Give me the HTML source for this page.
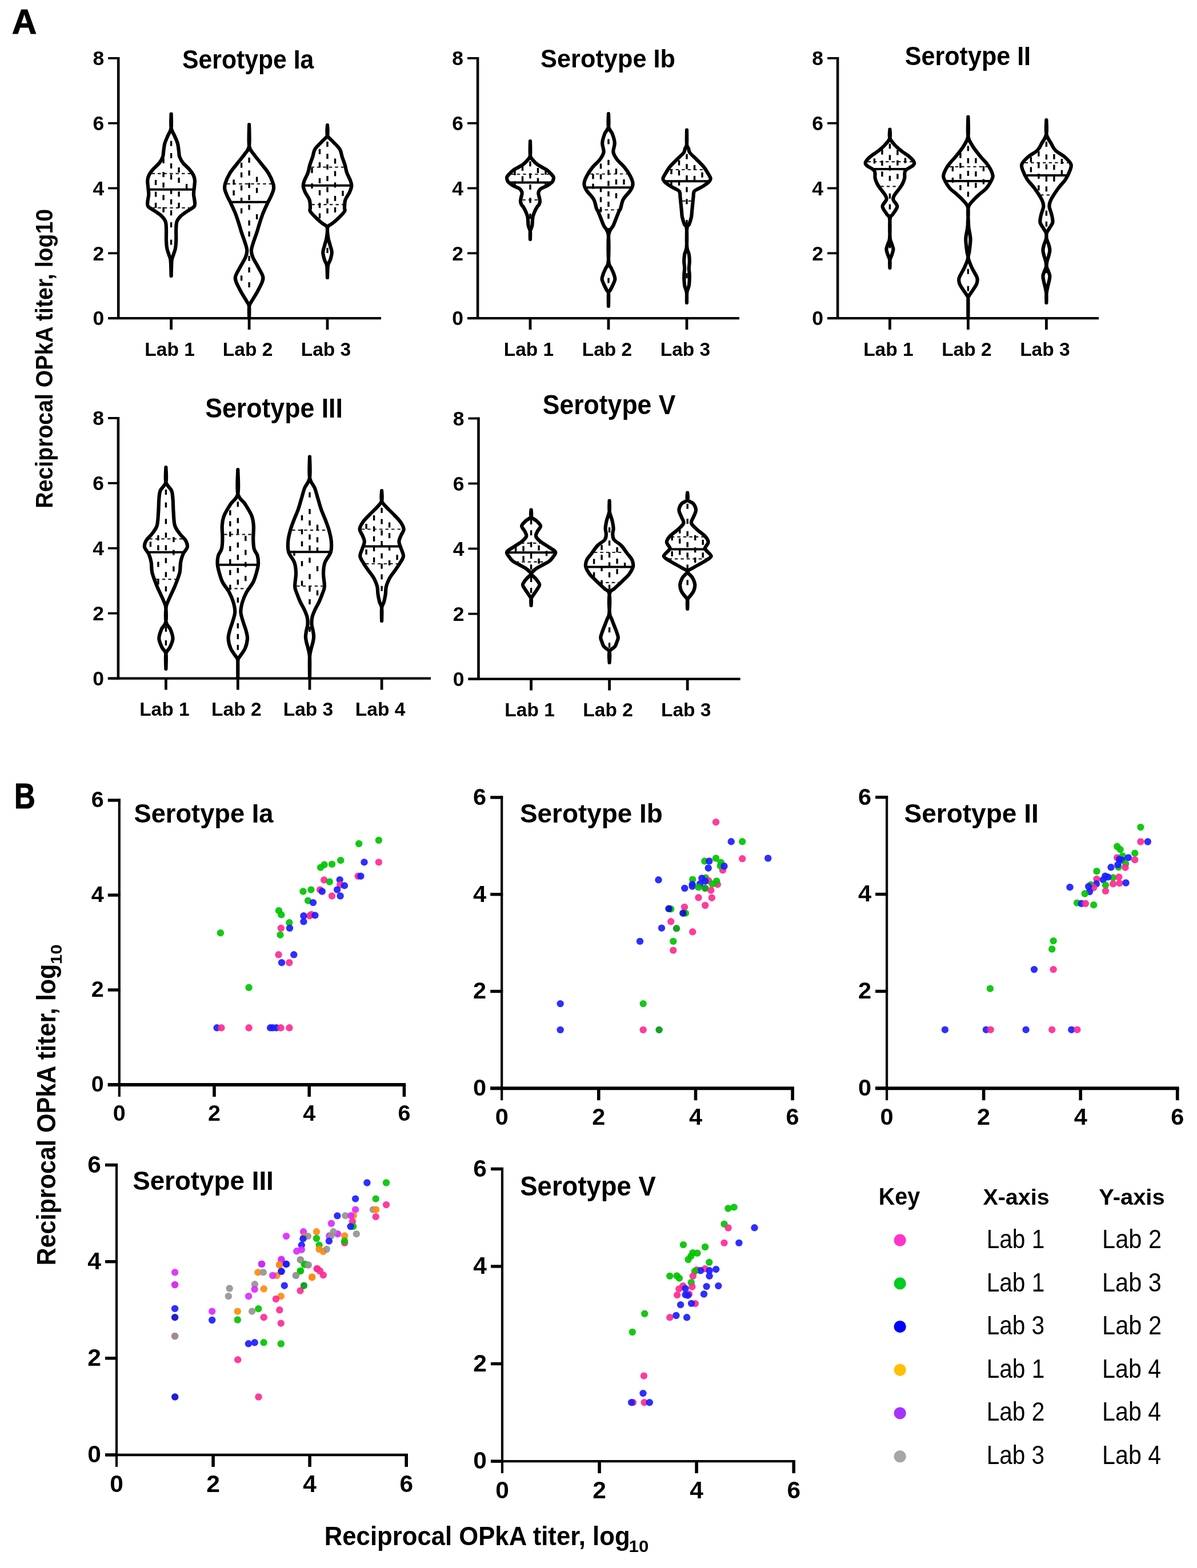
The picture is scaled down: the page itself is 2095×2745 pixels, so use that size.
<!DOCTYPE html><html><head><meta charset="utf-8"><title>Figure</title>
<style>html,body{margin:0;padding:0;background:#fff;width:2095px;height:2745px;overflow:hidden}svg{display:block}text{font-family:"Liberation Sans", Arial, sans-serif;fill:#000}</style></head><body>
<svg width="2095" height="2745" viewBox="0 0 2095 2745">
<rect width="2095" height="2745" fill="#fff"/>
<text transform="translate(21.10 59.10) scale(0.9659 1)" font-size="61.96" font-weight="bold" stroke="#000" stroke-width="1.2">A</text>
<text transform="translate(24.96 1414.50) scale(0.8151 1)" font-size="62.55" font-weight="bold" stroke="#000" stroke-width="1.2">B</text>
<line x1="207.2" y1="99.9" x2="207.2" y2="559.1" stroke="#000" stroke-width="4.6"/>
<line x1="189.2" y1="557.1" x2="207.2" y2="557.1" stroke="#000" stroke-width="3.8"/>
<text x="182.2" y="569.4" font-size="35.5" font-weight="bold" text-anchor="end" >0</text>
<line x1="189.2" y1="443.3" x2="207.2" y2="443.3" stroke="#000" stroke-width="3.8"/>
<text x="182.2" y="455.6" font-size="35.5" font-weight="bold" text-anchor="end" >2</text>
<line x1="189.2" y1="329.5" x2="207.2" y2="329.5" stroke="#000" stroke-width="3.8"/>
<text x="182.2" y="341.8" font-size="35.5" font-weight="bold" text-anchor="end" >4</text>
<line x1="189.2" y1="215.7" x2="207.2" y2="215.7" stroke="#000" stroke-width="3.8"/>
<text x="182.2" y="228.0" font-size="35.5" font-weight="bold" text-anchor="end" >6</text>
<line x1="189.2" y1="101.9" x2="207.2" y2="101.9" stroke="#000" stroke-width="3.8"/>
<text x="182.2" y="114.2" font-size="35.5" font-weight="bold" text-anchor="end" >8</text>
<line x1="189.2" y1="557.1" x2="667.0" y2="557.1" stroke="#000" stroke-width="4.2"/>
<line x1="299.6" y1="557.1" x2="299.6" y2="577.1" stroke="#000" stroke-width="4.8"/>
<text x="297.1" y="622.9" font-size="33.5" font-weight="bold" text-anchor="middle" >Lab 1</text>
<line x1="436.1" y1="557.1" x2="436.1" y2="577.1" stroke="#000" stroke-width="4.8"/>
<text x="433.6" y="622.9" font-size="33.5" font-weight="bold" text-anchor="middle" >Lab 2</text>
<line x1="573.0" y1="557.1" x2="573.0" y2="577.1" stroke="#000" stroke-width="4.8"/>
<text x="570.5" y="622.9" font-size="33.5" font-weight="bold" text-anchor="middle" >Lab 3</text>
<text transform="translate(319.12 119.90) scale(0.9396 1)" font-size="45.45" font-weight="bold">Serotype Ia</text>
<path d="M299.6,199.5 C299.6,203.6 298.6,217.6 299.6,224.0 C300.6,230.4 303.6,233.1 305.5,237.7 C307.4,242.3 309.7,246.8 310.9,251.4 C312.2,256.0 312.4,261.1 313.0,265.0 C313.6,268.9 313.1,271.1 314.3,274.5 C315.6,277.9 317.6,281.9 320.5,285.5 C323.4,289.1 328.5,293.0 331.4,296.4 C334.4,299.8 336.6,302.8 338.2,306.0 C339.8,309.2 340.6,312.1 340.9,315.5 C341.2,318.9 340.5,322.3 340.2,326.4 C339.9,330.5 338.8,335.5 338.9,340.0 C339.0,344.5 340.8,350.0 340.9,353.6 C341.0,357.2 341.9,359.1 339.6,361.8 C337.3,364.5 331.2,367.3 327.3,370.0 C323.4,372.7 319.4,375.2 316.4,378.2 C313.5,381.1 311.0,383.8 309.6,387.7 C308.2,391.6 308.4,395.7 308.2,401.4 C308.0,407.1 308.4,416.1 308.2,421.8 C308.0,427.5 307.6,431.4 306.8,435.5 C306.0,439.6 304.4,443.0 303.4,446.4 C302.4,449.8 301.2,449.9 300.6,456.0 C300.0,462.1 299.8,478.5 299.6,483.0 L299.6,483.0 C299.4,478.5 299.2,462.1 298.6,456.0 C298.0,449.9 296.8,449.8 295.8,446.4 C294.8,443.0 293.2,439.6 292.4,435.5 C291.6,431.4 291.2,427.5 291.0,421.8 C290.8,416.1 291.2,407.1 291.0,401.4 C290.8,395.7 291.0,391.6 289.6,387.7 C288.2,383.8 285.8,381.1 282.8,378.2 C279.9,375.2 275.8,372.7 271.9,370.0 C268.0,367.3 261.9,364.5 259.6,361.8 C257.3,359.1 258.2,357.2 258.3,353.6 C258.4,350.0 260.2,344.5 260.3,340.0 C260.4,335.5 259.3,330.5 259.0,326.4 C258.7,322.3 258.0,318.9 258.3,315.5 C258.6,312.1 259.4,309.2 261.0,306.0 C262.6,302.8 264.9,299.8 267.8,296.4 C270.8,293.0 275.9,289.1 278.7,285.5 C281.6,281.9 283.7,277.9 284.9,274.5 C286.2,271.1 285.6,268.9 286.2,265.0 C286.8,261.1 287.1,256.0 288.3,251.4 C289.6,246.8 291.8,242.3 293.7,237.7 C295.6,233.1 298.6,230.4 299.6,224.0 C300.6,217.6 299.6,203.6 299.6,199.5 Z" fill="none" stroke="#000" stroke-width="6.2" stroke-linejoin="round" stroke-linecap="round"/>
<line x1="261.5" y1="331.8" x2="337.7" y2="331.8" stroke="#000" stroke-width="4.0"/>
<line x1="265.5" y1="303.9" x2="333.7" y2="303.9" stroke="#222" stroke-width="2.2" stroke-dasharray="5.5 5"/>
<line x1="265.8" y1="363.9" x2="333.5" y2="363.9" stroke="#222" stroke-width="2.2" stroke-dasharray="5.5 5"/>
<rect x="297.9" y="246.7" width="3.4" height="9" fill="#000"/>
<rect x="297.9" y="268.0" width="3.4" height="9" fill="#000"/>
<rect x="284.4" y="276.9" width="3.4" height="9" fill="#000"/>
<rect x="297.9" y="285.9" width="3.4" height="9" fill="#000"/>
<rect x="311.4" y="293.1" width="3.4" height="9" fill="#000"/>
<rect x="284.4" y="301.0" width="3.4" height="9" fill="#000"/>
<rect x="297.9" y="305.4" width="3.4" height="9" fill="#000"/>
<rect x="311.4" y="311.0" width="3.4" height="9" fill="#000"/>
<rect x="270.9" y="314.9" width="3.4" height="9" fill="#000"/>
<rect x="284.4" y="319.5" width="3.4" height="9" fill="#000"/>
<rect x="324.9" y="322.0" width="3.4" height="9" fill="#000"/>
<rect x="297.9" y="330.7" width="3.4" height="9" fill="#000"/>
<rect x="311.4" y="335.3" width="3.4" height="9" fill="#000"/>
<rect x="270.9" y="335.6" width="3.4" height="9" fill="#000"/>
<rect x="284.4" y="341.3" width="3.4" height="9" fill="#000"/>
<rect x="297.9" y="348.8" width="3.4" height="9" fill="#000"/>
<rect x="311.4" y="354.9" width="3.4" height="9" fill="#000"/>
<rect x="270.9" y="354.9" width="3.4" height="9" fill="#000"/>
<rect x="284.4" y="362.7" width="3.4" height="9" fill="#000"/>
<rect x="297.9" y="368.2" width="3.4" height="9" fill="#000"/>
<rect x="297.9" y="389.1" width="3.4" height="9" fill="#000"/>
<rect x="297.9" y="419.6" width="3.4" height="9" fill="#000"/>
<path d="M436.1,218.0 C436.1,224.2 434.9,246.8 436.1,255.3 C437.3,263.8 439.9,263.8 443.4,269.0 C446.9,274.2 452.7,280.6 457.1,286.4 C461.6,292.2 466.6,297.8 470.1,303.6 C473.6,309.4 476.5,316.4 477.9,321.0 C479.4,325.6 479.4,327.6 478.8,331.3 C478.2,335.0 476.1,339.4 474.4,343.4 C472.7,347.4 470.7,350.5 468.4,355.4 C466.1,360.3 462.9,366.9 460.6,372.7 C458.3,378.5 456.5,384.2 454.6,390.0 C452.7,395.8 451.3,401.6 449.4,407.3 C447.5,413.1 445.0,419.3 443.4,424.5 C441.8,429.7 440.1,434.0 439.9,438.3 C439.8,442.6 440.5,445.5 442.5,450.4 C444.5,455.3 449.1,462.2 452.0,467.7 C454.9,473.2 458.6,478.9 459.8,483.2 C461.0,487.5 460.5,489.0 458.9,493.6 C457.3,498.2 453.5,505.1 450.3,510.9 C447.1,516.7 442.3,523.9 439.9,528.2 C437.5,532.5 436.7,532.0 436.1,536.8 C435.5,541.6 436.1,553.6 436.1,557.0 L436.1,557.0 C436.1,553.6 436.7,541.6 436.1,536.8 C435.5,532.0 434.7,532.5 432.3,528.2 C429.9,523.9 425.1,516.7 421.9,510.9 C418.7,505.1 414.9,498.2 413.3,493.6 C411.7,489.0 411.2,487.5 412.4,483.2 C413.6,478.9 417.3,473.2 420.2,467.7 C423.1,462.2 427.7,455.3 429.7,450.4 C431.7,445.5 432.5,442.6 432.3,438.3 C432.1,434.0 430.4,429.7 428.8,424.5 C427.2,419.3 424.7,413.1 422.8,407.3 C420.9,401.6 419.5,395.8 417.6,390.0 C415.7,384.2 413.9,378.5 411.6,372.7 C409.3,366.9 406.1,360.3 403.8,355.4 C401.5,350.5 399.5,347.4 397.8,343.4 C396.1,339.4 394.0,335.0 393.4,331.3 C392.8,327.6 392.9,325.6 394.3,321.0 C395.8,316.4 398.6,309.4 402.1,303.6 C405.6,297.8 410.7,292.2 415.1,286.4 C419.6,280.6 425.3,274.2 428.8,269.0 C432.3,263.8 434.9,263.8 436.1,255.3 C437.3,246.8 436.1,224.2 436.1,218.0 Z" fill="none" stroke="#000" stroke-width="6.2" stroke-linejoin="round" stroke-linecap="round"/>
<line x1="405.0" y1="353.7" x2="467.2" y2="353.7" stroke="#000" stroke-width="4.0"/>
<line x1="397.2" y1="321.8" x2="475.0" y2="321.8" stroke="#222" stroke-width="2.2" stroke-dasharray="5.5 5"/>
<rect x="434.4" y="275.9" width="3.4" height="9" fill="#000"/>
<rect x="420.9" y="284.7" width="3.4" height="9" fill="#000"/>
<rect x="434.4" y="298.4" width="3.4" height="9" fill="#000"/>
<rect x="420.9" y="301.7" width="3.4" height="9" fill="#000"/>
<rect x="447.9" y="309.6" width="3.4" height="9" fill="#000"/>
<rect x="407.4" y="314.4" width="3.4" height="9" fill="#000"/>
<rect x="434.4" y="320.2" width="3.4" height="9" fill="#000"/>
<rect x="420.9" y="324.4" width="3.4" height="9" fill="#000"/>
<rect x="447.9" y="328.8" width="3.4" height="9" fill="#000"/>
<rect x="407.4" y="333.2" width="3.4" height="9" fill="#000"/>
<rect x="434.4" y="341.3" width="3.4" height="9" fill="#000"/>
<rect x="420.9" y="346.2" width="3.4" height="9" fill="#000"/>
<rect x="434.4" y="358.4" width="3.4" height="9" fill="#000"/>
<rect x="420.9" y="364.6" width="3.4" height="9" fill="#000"/>
<rect x="447.9" y="375.0" width="3.4" height="9" fill="#000"/>
<rect x="434.4" y="385.8" width="3.4" height="9" fill="#000"/>
<rect x="434.4" y="405.1" width="3.4" height="9" fill="#000"/>
<rect x="434.4" y="447.8" width="3.4" height="9" fill="#000"/>
<rect x="434.4" y="468.0" width="3.4" height="9" fill="#000"/>
<rect x="420.9" y="482.4" width="3.4" height="9" fill="#000"/>
<rect x="434.4" y="494.1" width="3.4" height="9" fill="#000"/>
<path d="M573.0,219.0 C573.0,222.0 571.4,232.0 573.0,236.8 C574.6,241.6 578.9,243.6 582.5,247.7 C586.1,251.8 592.1,256.8 594.8,261.4 C597.5,265.9 597.4,270.5 598.9,275.0 C600.4,279.5 602.4,284.1 603.7,288.6 C605.1,293.2 605.4,297.7 607.0,302.3 C608.6,306.9 611.8,312.1 613.2,316.0 C614.6,319.9 615.5,322.1 615.3,325.5 C615.1,328.9 613.7,332.3 611.9,336.4 C610.1,340.5 605.9,345.5 604.4,350.0 C602.9,354.5 603.2,360.3 603.0,363.6 C602.8,366.9 604.8,367.0 603.0,370.0 C601.2,373.0 595.9,378.4 592.4,381.8 C588.9,385.2 585.5,388.0 582.3,390.7 C579.1,393.4 574.7,393.6 573.4,398.0 C572.1,402.4 573.7,411.7 574.5,417.0 C575.3,422.3 577.0,425.8 578.0,430.0 C579.0,434.2 580.8,437.8 580.8,442.0 C580.8,446.2 579.1,451.2 578.0,455.0 C576.9,458.8 574.8,459.8 574.0,465.0 C573.2,470.2 573.2,482.5 573.0,486.0 L573.0,486.0 C572.8,482.5 572.8,470.2 572.0,465.0 C571.2,459.8 569.1,458.8 568.0,455.0 C566.9,451.2 565.2,446.2 565.2,442.0 C565.2,437.8 567.0,434.2 568.0,430.0 C569.0,425.8 570.7,422.3 571.5,417.0 C572.3,411.7 573.9,402.4 572.6,398.0 C571.3,393.6 566.9,393.4 563.7,390.7 C560.5,388.0 557.1,385.2 553.6,381.8 C550.1,378.4 544.8,373.0 543.0,370.0 C541.2,367.0 543.2,366.9 543.0,363.6 C542.8,360.3 543.1,354.5 541.6,350.0 C540.1,345.5 535.9,340.5 534.1,336.4 C532.3,332.3 530.9,328.9 530.7,325.5 C530.5,322.1 531.4,319.9 532.8,316.0 C534.2,312.1 537.4,306.9 539.0,302.3 C540.6,297.7 540.9,293.2 542.3,288.6 C543.6,284.1 545.6,279.5 547.1,275.0 C548.6,270.5 548.5,265.9 551.2,261.4 C553.9,256.8 559.9,251.8 563.5,247.7 C567.1,243.6 571.4,241.6 573.0,236.8 C574.6,232.0 573.0,222.0 573.0,219.0 Z" fill="none" stroke="#000" stroke-width="6.2" stroke-linejoin="round" stroke-linecap="round"/>
<line x1="532.9" y1="324.8" x2="613.1" y2="324.8" stroke="#000" stroke-width="4.0"/>
<line x1="544.3" y1="292.7" x2="601.7" y2="292.7" stroke="#222" stroke-width="2.2" stroke-dasharray="5.5 5"/>
<line x1="545.4" y1="358.2" x2="600.6" y2="358.2" stroke="#222" stroke-width="2.2" stroke-dasharray="5.5 5"/>
<rect x="571.3" y="248.0" width="3.4" height="9" fill="#000"/>
<rect x="557.8" y="260.9" width="3.4" height="9" fill="#000"/>
<rect x="571.3" y="269.2" width="3.4" height="9" fill="#000"/>
<rect x="584.8" y="277.5" width="3.4" height="9" fill="#000"/>
<rect x="557.8" y="284.1" width="3.4" height="9" fill="#000"/>
<rect x="571.3" y="287.8" width="3.4" height="9" fill="#000"/>
<rect x="544.3" y="294.0" width="3.4" height="9" fill="#000"/>
<rect x="584.8" y="299.4" width="3.4" height="9" fill="#000"/>
<rect x="571.3" y="308.0" width="3.4" height="9" fill="#000"/>
<rect x="557.8" y="311.8" width="3.4" height="9" fill="#000"/>
<rect x="584.8" y="319.4" width="3.4" height="9" fill="#000"/>
<rect x="544.3" y="321.0" width="3.4" height="9" fill="#000"/>
<rect x="571.3" y="327.4" width="3.4" height="9" fill="#000"/>
<rect x="557.8" y="332.9" width="3.4" height="9" fill="#000"/>
<rect x="598.3" y="334.0" width="3.4" height="9" fill="#000"/>
<rect x="584.8" y="342.9" width="3.4" height="9" fill="#000"/>
<rect x="571.3" y="347.4" width="3.4" height="9" fill="#000"/>
<rect x="557.8" y="355.1" width="3.4" height="9" fill="#000"/>
<rect x="584.8" y="362.9" width="3.4" height="9" fill="#000"/>
<rect x="571.3" y="364.6" width="3.4" height="9" fill="#000"/>
<rect x="557.8" y="373.4" width="3.4" height="9" fill="#000"/>
<rect x="571.3" y="433.9" width="3.4" height="9" fill="#000"/>
<line x1="836.1" y1="99.9" x2="836.1" y2="559.1" stroke="#000" stroke-width="4.6"/>
<line x1="818.1" y1="557.1" x2="836.1" y2="557.1" stroke="#000" stroke-width="3.8"/>
<text x="811.1" y="569.4" font-size="35.5" font-weight="bold" text-anchor="end" >0</text>
<line x1="818.1" y1="443.3" x2="836.1" y2="443.3" stroke="#000" stroke-width="3.8"/>
<text x="811.1" y="455.6" font-size="35.5" font-weight="bold" text-anchor="end" >2</text>
<line x1="818.1" y1="329.5" x2="836.1" y2="329.5" stroke="#000" stroke-width="3.8"/>
<text x="811.1" y="341.8" font-size="35.5" font-weight="bold" text-anchor="end" >4</text>
<line x1="818.1" y1="215.7" x2="836.1" y2="215.7" stroke="#000" stroke-width="3.8"/>
<text x="811.1" y="228.0" font-size="35.5" font-weight="bold" text-anchor="end" >6</text>
<line x1="818.1" y1="101.9" x2="836.1" y2="101.9" stroke="#000" stroke-width="3.8"/>
<text x="811.1" y="114.2" font-size="35.5" font-weight="bold" text-anchor="end" >8</text>
<line x1="818.1" y1="557.1" x2="1294.0" y2="557.1" stroke="#000" stroke-width="4.2"/>
<line x1="928.0" y1="557.1" x2="928.0" y2="577.1" stroke="#000" stroke-width="4.8"/>
<text x="925.5" y="622.9" font-size="33.5" font-weight="bold" text-anchor="middle" >Lab 1</text>
<line x1="1065.0" y1="557.1" x2="1065.0" y2="577.1" stroke="#000" stroke-width="4.8"/>
<text x="1062.5" y="622.9" font-size="33.5" font-weight="bold" text-anchor="middle" >Lab 2</text>
<line x1="1202.0" y1="557.1" x2="1202.0" y2="577.1" stroke="#000" stroke-width="4.8"/>
<text x="1199.5" y="622.9" font-size="33.5" font-weight="bold" text-anchor="middle" >Lab 3</text>
<text transform="translate(946.10 117.90) scale(0.9666 1)" font-size="44.83" font-weight="bold">Serotype Ib</text>
<path d="M928.0,247.0 C928.0,251.2 927.2,266.5 928.0,272.0 C928.8,277.5 930.5,277.4 932.5,280.0 C934.5,282.6 937.4,285.4 940.0,287.5 C942.6,289.6 945.2,290.8 948.0,292.5 C950.8,294.2 954.3,295.6 957.0,297.5 C959.7,299.4 962.0,301.9 964.0,304.0 C966.0,306.1 968.0,308.0 968.7,310.0 C969.4,312.0 968.6,314.3 968.0,316.0 C967.4,317.7 966.7,318.5 965.0,320.0 C963.3,321.5 961.0,323.3 958.0,325.0 C955.0,326.7 949.5,328.3 947.0,330.0 C944.5,331.7 943.8,333.3 943.0,335.0 C942.2,336.7 942.3,338.2 942.5,340.0 C942.7,341.8 943.6,343.9 944.0,346.0 C944.4,348.1 945.1,350.5 945.0,352.5 C944.9,354.5 944.3,356.3 943.5,358.0 C942.7,359.7 941.2,360.5 940.0,362.5 C938.8,364.5 937.2,367.1 936.0,370.0 C934.8,372.9 933.3,375.8 932.5,380.0 C931.7,384.2 932.0,390.8 931.3,395.0 C930.5,399.2 928.5,401.0 928.0,405.0 C927.5,409.0 928.0,416.7 928.0,419.0 L928.0,419.0 C928.0,416.7 928.5,409.0 928.0,405.0 C927.5,401.0 925.5,399.2 924.7,395.0 C924.0,390.8 924.3,384.2 923.5,380.0 C922.7,375.8 921.2,372.9 920.0,370.0 C918.8,367.1 917.2,364.5 916.0,362.5 C914.8,360.5 913.3,359.7 912.5,358.0 C911.7,356.3 911.1,354.5 911.0,352.5 C910.9,350.5 911.6,348.1 912.0,346.0 C912.4,343.9 913.3,341.8 913.5,340.0 C913.7,338.2 913.8,336.7 913.0,335.0 C912.2,333.3 911.5,331.7 909.0,330.0 C906.5,328.3 901.0,326.7 898.0,325.0 C895.0,323.3 892.7,321.5 891.0,320.0 C889.3,318.5 888.6,317.7 888.0,316.0 C887.4,314.3 886.6,312.0 887.3,310.0 C888.0,308.0 890.0,306.1 892.0,304.0 C894.0,301.9 896.3,299.4 899.0,297.5 C901.7,295.6 905.2,294.2 908.0,292.5 C910.8,290.8 913.4,289.6 916.0,287.5 C918.6,285.4 921.5,282.6 923.5,280.0 C925.5,277.4 927.2,277.5 928.0,272.0 C928.8,266.5 928.0,251.2 928.0,247.0 Z" fill="none" stroke="#000" stroke-width="6.2" stroke-linejoin="round" stroke-linecap="round"/>
<line x1="892.6" y1="319.5" x2="963.4" y2="319.5" stroke="#000" stroke-width="4.0"/>
<line x1="894.2" y1="305.0" x2="961.8" y2="305.0" stroke="#222" stroke-width="2.2" stroke-dasharray="5.5 5"/>
<line x1="914.4" y1="350.0" x2="941.6" y2="350.0" stroke="#222" stroke-width="2.2" stroke-dasharray="5.5 5"/>
<rect x="926.3" y="282.3" width="3.4" height="9" fill="#000"/>
<rect x="912.8" y="290.0" width="3.4" height="9" fill="#000"/>
<rect x="939.8" y="294.0" width="3.4" height="9" fill="#000"/>
<rect x="899.3" y="297.7" width="3.4" height="9" fill="#000"/>
<rect x="953.3" y="296.7" width="3.4" height="9" fill="#000"/>
<rect x="926.3" y="303.3" width="3.4" height="9" fill="#000"/>
<rect x="912.8" y="308.5" width="3.4" height="9" fill="#000"/>
<rect x="939.8" y="311.6" width="3.4" height="9" fill="#000"/>
<rect x="899.3" y="317.3" width="3.4" height="9" fill="#000"/>
<rect x="953.3" y="319.0" width="3.4" height="9" fill="#000"/>
<rect x="926.3" y="323.0" width="3.4" height="9" fill="#000"/>
<rect x="926.3" y="346.3" width="3.4" height="9" fill="#000"/>
<rect x="926.3" y="374.1" width="3.4" height="9" fill="#000"/>
<path d="M1065.0,199.0 C1065.0,202.8 1063.9,215.9 1065.0,221.8 C1066.1,227.7 1070.0,229.7 1071.8,234.5 C1073.6,239.3 1075.5,245.1 1075.8,250.4 C1076.1,255.7 1072.7,261.5 1073.4,266.3 C1074.1,271.1 1076.5,274.5 1079.8,279.0 C1083.1,283.5 1089.3,288.3 1093.3,293.3 C1097.3,298.3 1101.2,304.4 1103.6,309.2 C1106.0,314.0 1107.6,318.0 1107.6,322.0 C1107.6,326.0 1106.4,328.5 1103.6,333.0 C1100.8,337.5 1093.8,343.7 1090.9,349.0 C1088.0,354.3 1087.4,361.4 1086.1,364.9 C1084.8,368.4 1084.6,367.1 1083.3,370.0 C1082.0,372.9 1080.0,378.3 1078.3,382.5 C1076.6,386.7 1075.5,390.2 1073.3,395.0 C1071.1,399.8 1066.6,400.9 1065.3,411.3 C1064.0,421.7 1064.5,447.7 1065.3,457.5 C1066.1,467.3 1068.6,466.4 1070.1,470.0 C1071.5,473.6 1073.0,475.9 1074.0,479.0 C1075.0,482.1 1076.6,485.6 1076.4,488.8 C1076.2,492.0 1074.3,494.9 1073.0,498.0 C1071.7,501.1 1069.6,504.9 1068.3,507.5 C1067.0,510.1 1065.5,509.0 1065.0,513.8 C1064.5,518.5 1065.0,532.3 1065.0,536.0 L1065.0,536.0 C1065.0,532.3 1065.5,518.5 1065.0,513.8 C1064.5,509.0 1063.0,510.1 1061.7,507.5 C1060.4,504.9 1058.3,501.1 1057.0,498.0 C1055.7,494.9 1053.8,492.0 1053.6,488.8 C1053.4,485.6 1055.0,482.1 1056.0,479.0 C1057.0,475.9 1058.5,473.6 1059.9,470.0 C1061.4,466.4 1063.9,467.3 1064.7,457.5 C1065.5,447.7 1066.0,421.7 1064.7,411.3 C1063.4,400.9 1058.9,399.8 1056.7,395.0 C1054.5,390.2 1053.4,386.7 1051.7,382.5 C1050.0,378.3 1048.0,372.9 1046.7,370.0 C1045.4,367.1 1045.2,368.4 1043.9,364.9 C1042.6,361.4 1042.0,354.3 1039.1,349.0 C1036.2,343.7 1029.2,337.5 1026.4,333.0 C1023.6,328.5 1022.4,326.0 1022.4,322.0 C1022.4,318.0 1024.0,314.0 1026.4,309.2 C1028.8,304.4 1032.7,298.3 1036.7,293.3 C1040.7,288.3 1046.9,283.5 1050.2,279.0 C1053.5,274.5 1055.9,271.1 1056.6,266.3 C1057.3,261.5 1053.9,255.7 1054.2,250.4 C1054.5,245.1 1056.4,239.3 1058.2,234.5 C1060.0,229.7 1063.9,227.7 1065.0,221.8 C1066.1,215.9 1065.0,202.8 1065.0,199.0 Z" fill="none" stroke="#000" stroke-width="6.2" stroke-linejoin="round" stroke-linecap="round"/>
<line x1="1026.7" y1="328.3" x2="1103.3" y2="328.3" stroke="#000" stroke-width="4.0"/>
<line x1="1032.4" y1="304.5" x2="1097.6" y2="304.5" stroke="#222" stroke-width="2.2" stroke-dasharray="5.5 5"/>
<line x1="1048.2" y1="367.3" x2="1081.8" y2="367.3" stroke="#222" stroke-width="2.2" stroke-dasharray="5.5 5"/>
<rect x="1063.3" y="243.4" width="3.4" height="9" fill="#000"/>
<rect x="1063.3" y="279.9" width="3.4" height="9" fill="#000"/>
<rect x="1049.8" y="286.4" width="3.4" height="9" fill="#000"/>
<rect x="1076.8" y="295.2" width="3.4" height="9" fill="#000"/>
<rect x="1063.3" y="297.4" width="3.4" height="9" fill="#000"/>
<rect x="1049.8" y="305.0" width="3.4" height="9" fill="#000"/>
<rect x="1036.3" y="304.5" width="3.4" height="9" fill="#000"/>
<rect x="1076.8" y="314.0" width="3.4" height="9" fill="#000"/>
<rect x="1090.3" y="314.0" width="3.4" height="9" fill="#000"/>
<rect x="1063.3" y="316.6" width="3.4" height="9" fill="#000"/>
<rect x="1036.3" y="321.6" width="3.4" height="9" fill="#000"/>
<rect x="1049.8" y="327.3" width="3.4" height="9" fill="#000"/>
<rect x="1063.3" y="334.8" width="3.4" height="9" fill="#000"/>
<rect x="1076.8" y="338.1" width="3.4" height="9" fill="#000"/>
<rect x="1049.8" y="344.9" width="3.4" height="9" fill="#000"/>
<rect x="1063.3" y="353.0" width="3.4" height="9" fill="#000"/>
<rect x="1049.8" y="362.4" width="3.4" height="9" fill="#000"/>
<rect x="1063.3" y="374.1" width="3.4" height="9" fill="#000"/>
<rect x="1063.3" y="399.2" width="3.4" height="9" fill="#000"/>
<rect x="1063.3" y="486.5" width="3.4" height="9" fill="#000"/>
<path d="M1202.0,227.5 C1202.0,231.7 1201.5,247.1 1202.0,252.5 C1202.5,257.9 1204.1,257.5 1205.0,260.0 C1205.9,262.5 1205.0,264.2 1207.5,267.5 C1210.0,270.8 1215.9,275.8 1220.0,280.0 C1224.1,284.2 1228.7,288.3 1232.0,292.5 C1235.3,296.7 1238.0,301.7 1240.0,305.0 C1242.0,308.3 1243.5,310.3 1243.7,312.5 C1243.9,314.7 1243.0,315.9 1241.0,318.0 C1239.0,320.1 1235.0,323.0 1232.0,325.0 C1229.0,327.0 1225.8,328.3 1223.0,330.0 C1220.2,331.7 1216.6,332.5 1215.0,335.0 C1213.4,337.5 1213.9,341.7 1213.5,345.0 C1213.1,348.3 1212.9,350.8 1212.5,355.0 C1212.1,359.2 1211.4,365.8 1211.0,370.0 C1210.6,374.2 1210.8,376.2 1210.0,380.0 C1209.2,383.8 1207.5,389.2 1206.2,392.5 C1204.9,395.8 1203.0,393.3 1202.3,400.0 C1201.6,406.7 1201.7,425.0 1202.3,432.5 C1202.9,440.0 1205.0,440.8 1205.8,445.0 C1206.5,449.2 1206.8,453.3 1206.8,457.5 C1206.8,461.7 1205.8,465.8 1205.8,470.0 C1205.8,474.2 1206.8,477.5 1206.8,482.5 C1206.8,487.5 1206.5,495.1 1205.8,500.0 C1205.0,504.9 1202.9,507.0 1202.3,512.0 C1201.7,517.0 1202.0,527.0 1202.0,530.0 L1202.0,530.0 C1202.0,527.0 1202.3,517.0 1201.7,512.0 C1201.1,507.0 1199.0,504.9 1198.2,500.0 C1197.5,495.1 1197.2,487.5 1197.2,482.5 C1197.2,477.5 1198.2,474.2 1198.2,470.0 C1198.2,465.8 1197.2,461.7 1197.2,457.5 C1197.2,453.3 1197.5,449.2 1198.2,445.0 C1199.0,440.8 1201.1,440.0 1201.7,432.5 C1202.3,425.0 1202.4,406.7 1201.7,400.0 C1201.0,393.3 1199.1,395.8 1197.8,392.5 C1196.5,389.2 1194.8,383.8 1194.0,380.0 C1193.2,376.2 1193.4,374.2 1193.0,370.0 C1192.6,365.8 1191.9,359.2 1191.5,355.0 C1191.1,350.8 1190.9,348.3 1190.5,345.0 C1190.1,341.7 1190.6,337.5 1189.0,335.0 C1187.4,332.5 1183.8,331.7 1181.0,330.0 C1178.2,328.3 1175.0,327.0 1172.0,325.0 C1169.0,323.0 1165.0,320.1 1163.0,318.0 C1161.0,315.9 1160.1,314.7 1160.3,312.5 C1160.5,310.3 1162.0,308.3 1164.0,305.0 C1166.0,301.7 1168.7,296.7 1172.0,292.5 C1175.3,288.3 1179.9,284.2 1184.0,280.0 C1188.1,275.8 1194.0,270.8 1196.5,267.5 C1199.0,264.2 1198.1,262.5 1199.0,260.0 C1199.9,257.5 1201.5,257.9 1202.0,252.5 C1202.5,247.1 1202.0,231.7 1202.0,227.5 Z" fill="none" stroke="#000" stroke-width="6.2" stroke-linejoin="round" stroke-linecap="round"/>
<line x1="1164.6" y1="317.2" x2="1239.4" y2="317.2" stroke="#000" stroke-width="4.0"/>
<line x1="1172.1" y1="297.0" x2="1231.9" y2="297.0" stroke="#222" stroke-width="2.2" stroke-dasharray="5.5 5"/>
<line x1="1194.2" y1="351.8" x2="1209.8" y2="351.8" stroke="#222" stroke-width="2.2" stroke-dasharray="5.5 5"/>
<rect x="1200.3" y="269.6" width="3.4" height="9" fill="#000"/>
<rect x="1186.8" y="280.5" width="3.4" height="9" fill="#000"/>
<rect x="1200.3" y="287.1" width="3.4" height="9" fill="#000"/>
<rect x="1213.8" y="289.0" width="3.4" height="9" fill="#000"/>
<rect x="1173.3" y="296.0" width="3.4" height="9" fill="#000"/>
<rect x="1186.8" y="298.2" width="3.4" height="9" fill="#000"/>
<rect x="1227.3" y="301.7" width="3.4" height="9" fill="#000"/>
<rect x="1200.3" y="307.0" width="3.4" height="9" fill="#000"/>
<rect x="1213.8" y="307.9" width="3.4" height="9" fill="#000"/>
<rect x="1186.8" y="315.8" width="3.4" height="9" fill="#000"/>
<rect x="1173.3" y="318.6" width="3.4" height="9" fill="#000"/>
<rect x="1200.3" y="327.4" width="3.4" height="9" fill="#000"/>
<rect x="1200.3" y="348.4" width="3.4" height="9" fill="#000"/>
<rect x="1200.3" y="384.9" width="3.4" height="9" fill="#000"/>
<rect x="1200.3" y="478.2" width="3.4" height="9" fill="#000"/>
<line x1="1466.1" y1="99.9" x2="1466.1" y2="559.1" stroke="#000" stroke-width="4.6"/>
<line x1="1448.1" y1="557.1" x2="1466.1" y2="557.1" stroke="#000" stroke-width="3.8"/>
<text x="1441.1" y="569.4" font-size="35.5" font-weight="bold" text-anchor="end" >0</text>
<line x1="1448.1" y1="443.3" x2="1466.1" y2="443.3" stroke="#000" stroke-width="3.8"/>
<text x="1441.1" y="455.6" font-size="35.5" font-weight="bold" text-anchor="end" >2</text>
<line x1="1448.1" y1="329.5" x2="1466.1" y2="329.5" stroke="#000" stroke-width="3.8"/>
<text x="1441.1" y="341.8" font-size="35.5" font-weight="bold" text-anchor="end" >4</text>
<line x1="1448.1" y1="215.7" x2="1466.1" y2="215.7" stroke="#000" stroke-width="3.8"/>
<text x="1441.1" y="228.0" font-size="35.5" font-weight="bold" text-anchor="end" >6</text>
<line x1="1448.1" y1="101.9" x2="1466.1" y2="101.9" stroke="#000" stroke-width="3.8"/>
<text x="1441.1" y="114.2" font-size="35.5" font-weight="bold" text-anchor="end" >8</text>
<line x1="1448.1" y1="557.1" x2="1923.0" y2="557.1" stroke="#000" stroke-width="4.2"/>
<line x1="1557.4" y1="557.1" x2="1557.4" y2="577.1" stroke="#000" stroke-width="4.8"/>
<text x="1554.9" y="622.9" font-size="33.5" font-weight="bold" text-anchor="middle" >Lab 1</text>
<line x1="1694.4" y1="557.1" x2="1694.4" y2="577.1" stroke="#000" stroke-width="4.8"/>
<text x="1691.9" y="622.9" font-size="33.5" font-weight="bold" text-anchor="middle" >Lab 2</text>
<line x1="1831.4" y1="557.1" x2="1831.4" y2="577.1" stroke="#000" stroke-width="4.8"/>
<text x="1828.9" y="622.9" font-size="33.5" font-weight="bold" text-anchor="middle" >Lab 3</text>
<text transform="translate(1583.81 114.30) scale(0.9276 1)" font-size="46.45" font-weight="bold">Serotype II</text>
<path d="M1557.4,226.5 C1557.4,229.1 1555.9,237.1 1557.4,241.8 C1559.0,246.5 1563.2,250.7 1566.7,254.5 C1570.2,258.3 1574.1,261.5 1578.1,264.7 C1582.1,267.9 1587.3,270.4 1590.9,273.6 C1594.5,276.8 1598.8,281.0 1599.8,283.8 C1600.9,286.6 1599.8,287.7 1597.2,290.2 C1594.6,292.7 1586.7,295.4 1584.4,299.0 C1582.1,302.6 1584.0,308.0 1583.2,311.8 C1582.4,315.6 1580.9,319.0 1579.4,322.0 C1577.9,325.0 1576.5,326.7 1574.2,330.0 C1571.9,333.3 1567.2,338.5 1565.4,341.8 C1563.6,345.1 1562.6,346.3 1563.4,349.6 C1564.2,352.9 1570.5,357.1 1570.3,361.4 C1570.2,365.7 1564.6,371.6 1562.5,375.2 C1560.4,378.8 1558.5,376.1 1557.7,383.0 C1556.9,389.9 1557.2,409.2 1557.7,416.4 C1558.2,423.6 1559.5,422.7 1560.4,426.0 C1561.4,429.3 1563.3,432.8 1563.4,436.1 C1563.5,439.4 1561.9,442.7 1560.9,446.0 C1559.9,449.3 1558.0,451.9 1557.4,455.7 C1556.8,459.5 1557.4,466.8 1557.4,469.0 L1557.4,469.0 C1557.4,466.8 1558.0,459.5 1557.4,455.7 C1556.8,451.9 1554.9,449.3 1553.9,446.0 C1552.9,442.7 1551.3,439.4 1551.4,436.1 C1551.5,432.8 1553.5,429.3 1554.4,426.0 C1555.4,422.7 1556.7,423.6 1557.1,416.4 C1557.6,409.2 1557.9,389.9 1557.1,383.0 C1556.3,376.1 1554.4,378.8 1552.3,375.2 C1550.2,371.6 1544.7,365.7 1544.5,361.4 C1544.3,357.1 1550.6,352.9 1551.4,349.6 C1552.2,346.3 1551.2,345.1 1549.4,341.8 C1547.6,338.5 1542.9,333.3 1540.6,330.0 C1538.3,326.7 1536.9,325.0 1535.4,322.0 C1533.9,319.0 1532.4,315.6 1531.6,311.8 C1530.8,308.0 1532.7,302.6 1530.4,299.0 C1528.1,295.4 1520.2,292.7 1517.6,290.2 C1515.0,287.7 1514.0,286.6 1515.0,283.8 C1516.0,281.0 1520.3,276.8 1523.9,273.6 C1527.5,270.4 1532.7,267.9 1536.7,264.7 C1540.7,261.5 1544.7,258.3 1548.1,254.5 C1551.6,250.7 1555.9,246.5 1557.4,241.8 C1559.0,237.1 1557.4,229.1 1557.4,226.5 Z" fill="none" stroke="#000" stroke-width="6.2" stroke-linejoin="round" stroke-linecap="round"/>
<line x1="1527.9" y1="295.9" x2="1586.9" y2="295.9" stroke="#000" stroke-width="4.0"/>
<line x1="1518.5" y1="283.2" x2="1596.3" y2="283.2" stroke="#222" stroke-width="2.2" stroke-dasharray="5.5 5"/>
<line x1="1541.3" y1="326.4" x2="1573.5" y2="326.4" stroke="#222" stroke-width="2.2" stroke-dasharray="5.5 5"/>
<rect x="1555.7" y="251.4" width="3.4" height="9" fill="#000"/>
<rect x="1542.2" y="261.6" width="3.4" height="9" fill="#000"/>
<rect x="1569.2" y="262.5" width="3.4" height="9" fill="#000"/>
<rect x="1555.7" y="271.3" width="3.4" height="9" fill="#000"/>
<rect x="1528.7" y="277.4" width="3.4" height="9" fill="#000"/>
<rect x="1582.7" y="276.6" width="3.4" height="9" fill="#000"/>
<rect x="1542.2" y="281.1" width="3.4" height="9" fill="#000"/>
<rect x="1569.2" y="280.6" width="3.4" height="9" fill="#000"/>
<rect x="1555.7" y="289.7" width="3.4" height="9" fill="#000"/>
<rect x="1542.2" y="300.2" width="3.4" height="9" fill="#000"/>
<rect x="1569.2" y="304.4" width="3.4" height="9" fill="#000"/>
<rect x="1555.7" y="307.7" width="3.4" height="9" fill="#000"/>
<rect x="1555.7" y="338.7" width="3.4" height="9" fill="#000"/>
<rect x="1555.7" y="357.6" width="3.4" height="9" fill="#000"/>
<rect x="1555.7" y="425.4" width="3.4" height="9" fill="#000"/>
<path d="M1694.4,204.5 C1694.4,210.2 1693.1,229.9 1694.4,238.4 C1695.7,246.9 1698.8,249.8 1702.2,255.6 C1705.7,261.3 1710.5,267.1 1715.1,272.9 C1719.7,278.7 1726.1,284.4 1729.8,290.2 C1733.6,295.9 1736.9,302.8 1737.6,307.4 C1738.3,312.0 1736.0,314.0 1734.1,317.8 C1732.2,321.6 1729.3,326.3 1726.0,330.0 C1722.7,333.7 1718.0,336.7 1714.4,340.0 C1710.8,343.3 1707.7,345.7 1704.4,349.6 C1701.1,353.5 1696.3,356.8 1694.7,363.4 C1693.1,370.0 1694.8,383.1 1694.9,389.0 C1695.0,394.9 1694.9,393.9 1695.5,398.8 C1696.1,403.7 1698.3,411.5 1698.5,418.4 C1698.7,425.3 1697.1,434.4 1696.5,440.0 C1695.9,445.6 1694.0,447.2 1694.7,451.8 C1695.4,456.4 1698.6,463.3 1700.4,467.5 C1702.2,471.7 1703.8,473.7 1705.4,477.0 C1707.1,480.3 1709.7,483.9 1710.3,487.2 C1711.0,490.5 1710.5,493.7 1709.3,497.0 C1708.2,500.3 1705.7,503.2 1703.4,506.8 C1701.1,510.4 1697.0,516.0 1695.5,518.6 C1694.0,521.2 1694.6,516.1 1694.4,522.5 C1694.2,528.9 1694.4,551.2 1694.4,557.0 L1694.4,557.0 C1694.4,551.2 1694.6,528.9 1694.4,522.5 C1694.2,516.1 1694.8,521.2 1693.3,518.6 C1691.8,516.0 1687.7,510.4 1685.4,506.8 C1683.1,503.2 1680.7,500.3 1679.5,497.0 C1678.3,493.7 1677.8,490.5 1678.5,487.2 C1679.2,483.9 1681.8,480.3 1683.4,477.0 C1685.1,473.7 1686.6,471.7 1688.4,467.5 C1690.2,463.3 1693.5,456.4 1694.1,451.8 C1694.8,447.2 1692.9,445.6 1692.3,440.0 C1691.7,434.4 1690.1,425.3 1690.3,418.4 C1690.5,411.5 1692.7,403.7 1693.3,398.8 C1693.9,393.9 1693.8,394.9 1693.9,389.0 C1694.0,383.1 1695.7,370.0 1694.1,363.4 C1692.5,356.8 1687.7,353.5 1684.4,349.6 C1681.1,345.7 1678.0,343.3 1674.4,340.0 C1670.8,336.7 1666.1,333.7 1662.8,330.0 C1659.5,326.3 1656.6,321.6 1654.7,317.8 C1652.8,314.0 1650.5,312.0 1651.2,307.4 C1651.9,302.8 1655.2,295.9 1659.0,290.2 C1662.8,284.4 1669.1,278.7 1673.7,272.9 C1678.3,267.1 1683.2,261.3 1686.6,255.6 C1690.1,249.8 1693.1,246.9 1694.4,238.4 C1695.7,229.9 1694.4,210.2 1694.4,204.5 Z" fill="none" stroke="#000" stroke-width="6.2" stroke-linejoin="round" stroke-linecap="round"/>
<line x1="1656.4" y1="316.9" x2="1732.4" y2="316.9" stroke="#000" stroke-width="4.0"/>
<line x1="1661.2" y1="291.9" x2="1727.6" y2="291.9" stroke="#222" stroke-width="2.2" stroke-dasharray="5.5 5"/>
<rect x="1692.7" y="255.4" width="3.4" height="9" fill="#000"/>
<rect x="1679.2" y="267.8" width="3.4" height="9" fill="#000"/>
<rect x="1692.7" y="276.8" width="3.4" height="9" fill="#000"/>
<rect x="1706.2" y="276.7" width="3.4" height="9" fill="#000"/>
<rect x="1679.2" y="285.1" width="3.4" height="9" fill="#000"/>
<rect x="1665.7" y="290.9" width="3.4" height="9" fill="#000"/>
<rect x="1719.7" y="290.7" width="3.4" height="9" fill="#000"/>
<rect x="1692.7" y="299.0" width="3.4" height="9" fill="#000"/>
<rect x="1706.2" y="300.0" width="3.4" height="9" fill="#000"/>
<rect x="1679.2" y="304.5" width="3.4" height="9" fill="#000"/>
<rect x="1665.7" y="310.9" width="3.4" height="9" fill="#000"/>
<rect x="1719.7" y="313.5" width="3.4" height="9" fill="#000"/>
<rect x="1692.7" y="317.7" width="3.4" height="9" fill="#000"/>
<rect x="1706.2" y="320.0" width="3.4" height="9" fill="#000"/>
<rect x="1679.2" y="324.0" width="3.4" height="9" fill="#000"/>
<rect x="1692.7" y="335.5" width="3.4" height="9" fill="#000"/>
<rect x="1692.7" y="356.6" width="3.4" height="9" fill="#000"/>
<rect x="1692.7" y="470.7" width="3.4" height="9" fill="#000"/>
<rect x="1692.7" y="500.7" width="3.4" height="9" fill="#000"/>
<path d="M1831.4,210.0 C1831.4,214.1 1830.1,227.9 1831.4,234.7 C1832.7,241.5 1836.8,245.8 1839.4,250.6 C1842.1,255.4 1843.3,259.4 1847.3,263.4 C1851.3,267.4 1858.7,270.5 1863.2,274.5 C1867.7,278.5 1872.7,283.2 1874.3,287.2 C1875.9,291.2 1874.3,293.8 1872.7,298.3 C1871.1,302.8 1868.3,308.9 1864.8,314.2 C1861.3,319.5 1856.1,324.1 1851.9,330.0 C1847.7,335.9 1842.0,344.4 1839.4,349.6 C1836.8,354.8 1836.3,357.2 1836.5,361.4 C1836.7,365.6 1839.4,370.4 1840.4,375.0 C1841.4,379.6 1843.1,384.8 1842.4,389.0 C1841.7,393.2 1838.2,396.7 1836.4,400.0 C1834.6,403.3 1832.5,405.5 1831.7,408.6 C1831.0,411.7 1831.3,415.2 1831.9,418.4 C1832.5,421.6 1834.5,424.7 1835.4,428.0 C1836.3,431.3 1837.4,434.7 1837.4,438.0 C1837.4,441.3 1836.2,444.7 1835.4,448.0 C1834.6,451.3 1833.1,454.4 1832.5,457.7 C1831.9,460.9 1831.5,464.6 1831.9,467.5 C1832.3,470.4 1834.0,472.4 1834.9,475.0 C1835.8,477.6 1837.2,480.2 1837.4,483.2 C1837.6,486.2 1836.6,489.7 1835.9,493.0 C1835.2,496.3 1834.2,499.3 1833.5,502.9 C1832.8,506.5 1831.8,510.2 1831.4,514.7 C1831.1,519.2 1831.4,527.5 1831.4,530.0 L1831.4,530.0 C1831.4,527.5 1831.8,519.2 1831.4,514.7 C1831.1,510.2 1830.1,506.5 1829.3,502.9 C1828.6,499.3 1827.6,496.3 1826.9,493.0 C1826.2,489.7 1825.2,486.2 1825.4,483.2 C1825.6,480.2 1827.0,477.6 1827.9,475.0 C1828.8,472.4 1830.5,470.4 1830.9,467.5 C1831.3,464.6 1830.9,460.9 1830.3,457.7 C1829.7,454.4 1828.2,451.3 1827.4,448.0 C1826.6,444.7 1825.4,441.3 1825.4,438.0 C1825.4,434.7 1826.5,431.3 1827.4,428.0 C1828.3,424.7 1830.3,421.6 1830.9,418.4 C1831.5,415.2 1831.9,411.7 1831.1,408.6 C1830.4,405.5 1828.2,403.3 1826.4,400.0 C1824.6,396.7 1821.1,393.2 1820.4,389.0 C1819.7,384.8 1821.4,379.6 1822.4,375.0 C1823.4,370.4 1826.1,365.6 1826.3,361.4 C1826.5,357.2 1826.0,354.8 1823.4,349.6 C1820.8,344.4 1815.1,335.9 1810.9,330.0 C1806.7,324.1 1801.5,319.5 1798.0,314.2 C1794.5,308.9 1791.7,302.8 1790.1,298.3 C1788.5,293.8 1786.9,291.2 1788.5,287.2 C1790.1,283.2 1795.1,278.5 1799.6,274.5 C1804.1,270.5 1811.5,267.4 1815.5,263.4 C1819.5,259.4 1820.8,255.4 1823.4,250.6 C1826.1,245.8 1830.1,241.5 1831.4,234.7 C1832.7,227.9 1831.4,214.1 1831.4,210.0 Z" fill="none" stroke="#000" stroke-width="6.2" stroke-linejoin="round" stroke-linecap="round"/>
<line x1="1796.4" y1="307.0" x2="1866.4" y2="307.0" stroke="#000" stroke-width="4.0"/>
<line x1="1793.6" y1="284.8" x2="1869.2" y2="284.8" stroke="#222" stroke-width="2.2" stroke-dasharray="5.5 5"/>
<line x1="1821.1" y1="341.3" x2="1841.7" y2="341.3" stroke="#222" stroke-width="2.2" stroke-dasharray="5.5 5"/>
<rect x="1829.7" y="248.1" width="3.4" height="9" fill="#000"/>
<rect x="1816.2" y="264.8" width="3.4" height="9" fill="#000"/>
<rect x="1829.7" y="270.3" width="3.4" height="9" fill="#000"/>
<rect x="1843.2" y="269.9" width="3.4" height="9" fill="#000"/>
<rect x="1802.7" y="274.9" width="3.4" height="9" fill="#000"/>
<rect x="1856.7" y="278.1" width="3.4" height="9" fill="#000"/>
<rect x="1816.2" y="285.4" width="3.4" height="9" fill="#000"/>
<rect x="1829.7" y="287.5" width="3.4" height="9" fill="#000"/>
<rect x="1843.2" y="288.4" width="3.4" height="9" fill="#000"/>
<rect x="1802.7" y="292.4" width="3.4" height="9" fill="#000"/>
<rect x="1856.7" y="297.7" width="3.4" height="9" fill="#000"/>
<rect x="1816.2" y="304.0" width="3.4" height="9" fill="#000"/>
<rect x="1829.7" y="308.8" width="3.4" height="9" fill="#000"/>
<rect x="1843.2" y="308.8" width="3.4" height="9" fill="#000"/>
<rect x="1816.2" y="324.3" width="3.4" height="9" fill="#000"/>
<rect x="1829.7" y="326.3" width="3.4" height="9" fill="#000"/>
<rect x="1829.7" y="368.7" width="3.4" height="9" fill="#000"/>
<rect x="1829.7" y="387.8" width="3.4" height="9" fill="#000"/>
<rect x="1829.7" y="469.1" width="3.4" height="9" fill="#000"/>
<line x1="206.9" y1="729.9" x2="206.9" y2="1189.6" stroke="#000" stroke-width="4.6"/>
<line x1="188.9" y1="1187.6" x2="206.9" y2="1187.6" stroke="#000" stroke-width="3.8"/>
<text x="181.9" y="1199.9" font-size="35.5" font-weight="bold" text-anchor="end" >0</text>
<line x1="188.9" y1="1073.7" x2="206.9" y2="1073.7" stroke="#000" stroke-width="3.8"/>
<text x="181.9" y="1086.0" font-size="35.5" font-weight="bold" text-anchor="end" >2</text>
<line x1="188.9" y1="959.8" x2="206.9" y2="959.8" stroke="#000" stroke-width="3.8"/>
<text x="181.9" y="972.0" font-size="35.5" font-weight="bold" text-anchor="end" >4</text>
<line x1="188.9" y1="845.8" x2="206.9" y2="845.8" stroke="#000" stroke-width="3.8"/>
<text x="181.9" y="858.1" font-size="35.5" font-weight="bold" text-anchor="end" >6</text>
<line x1="188.9" y1="731.9" x2="206.9" y2="731.9" stroke="#000" stroke-width="3.8"/>
<text x="181.9" y="744.2" font-size="35.5" font-weight="bold" text-anchor="end" >8</text>
<line x1="188.9" y1="1187.6" x2="754.0" y2="1187.6" stroke="#000" stroke-width="4.2"/>
<line x1="290.4" y1="1187.6" x2="290.4" y2="1207.6" stroke="#000" stroke-width="4.8"/>
<text x="287.9" y="1253.4" font-size="33.5" font-weight="bold" text-anchor="middle" >Lab 1</text>
<line x1="416.3" y1="1187.6" x2="416.3" y2="1207.6" stroke="#000" stroke-width="4.8"/>
<text x="413.8" y="1253.4" font-size="33.5" font-weight="bold" text-anchor="middle" >Lab 2</text>
<line x1="542.0" y1="1187.6" x2="542.0" y2="1207.6" stroke="#000" stroke-width="4.8"/>
<text x="539.5" y="1253.4" font-size="33.5" font-weight="bold" text-anchor="middle" >Lab 3</text>
<line x1="668.1" y1="1187.6" x2="668.1" y2="1207.6" stroke="#000" stroke-width="4.8"/>
<text x="665.6" y="1253.4" font-size="33.5" font-weight="bold" text-anchor="middle" >Lab 4</text>
<text transform="translate(359.16 730.60) scale(0.9384 1)" font-size="47.60" font-weight="bold">Serotype III</text>
<path d="M290.4,818.0 C290.4,822.3 288.8,837.2 290.4,844.0 C292.0,850.8 298.1,853.8 300.1,858.7 C302.1,863.6 301.9,867.0 302.5,873.3 C303.1,879.6 303.0,888.8 303.6,896.6 C304.2,904.4 304.1,913.7 306.0,920.0 C307.9,926.3 311.6,930.1 314.7,934.5 C317.8,938.9 322.7,942.3 324.9,946.2 C327.1,950.1 328.5,953.9 327.8,957.8 C327.1,961.7 322.5,965.1 320.6,969.5 C318.7,973.9 317.2,978.6 316.2,984.0 C315.2,989.4 315.9,995.8 314.7,1001.6 C313.5,1007.4 310.6,1014.3 308.9,1019.0 C307.2,1023.7 306.1,1026.1 304.4,1030.0 C302.7,1033.9 300.4,1038.7 298.7,1042.4 C297.0,1046.1 295.7,1048.6 294.4,1052.0 C293.1,1055.4 291.3,1056.6 290.7,1062.8 C290.1,1069.0 289.4,1082.5 290.7,1089.0 C292.0,1095.5 296.3,1096.9 298.3,1101.8 C300.3,1106.7 302.7,1112.8 302.5,1118.2 C302.3,1123.6 299.0,1129.5 297.0,1133.9 C295.0,1138.3 291.5,1138.2 290.4,1144.4 C289.3,1150.6 290.4,1166.6 290.4,1171.0 L290.4,1171.0 C290.4,1166.6 291.5,1150.6 290.4,1144.4 C289.3,1138.2 285.8,1138.3 283.8,1133.9 C281.8,1129.5 278.5,1123.6 278.3,1118.2 C278.1,1112.8 280.5,1106.7 282.5,1101.8 C284.5,1096.9 288.8,1095.5 290.1,1089.0 C291.4,1082.5 290.7,1069.0 290.1,1062.8 C289.5,1056.6 287.7,1055.4 286.4,1052.0 C285.1,1048.6 283.8,1046.1 282.1,1042.4 C280.4,1038.7 278.1,1033.9 276.4,1030.0 C274.7,1026.1 273.6,1023.7 271.9,1019.0 C270.2,1014.3 267.3,1007.4 266.1,1001.6 C264.9,995.8 265.6,989.4 264.6,984.0 C263.6,978.6 262.1,973.9 260.2,969.5 C258.3,965.1 253.7,961.7 253.0,957.8 C252.3,953.9 253.7,950.1 255.9,946.2 C258.1,942.3 262.9,938.9 266.1,934.5 C269.2,930.1 272.9,926.3 274.8,920.0 C276.6,913.7 276.6,904.4 277.2,896.6 C277.8,888.8 277.7,879.6 278.3,873.3 C278.9,867.0 278.7,863.6 280.7,858.7 C282.7,853.8 288.8,850.8 290.4,844.0 C292.0,837.2 290.4,822.3 290.4,818.0 Z" fill="none" stroke="#000" stroke-width="6.2" stroke-linejoin="round" stroke-linecap="round"/>
<line x1="260.5" y1="966.7" x2="320.3" y2="966.7" stroke="#000" stroke-width="4.0"/>
<line x1="261.3" y1="943.4" x2="319.5" y2="943.4" stroke="#222" stroke-width="2.2" stroke-dasharray="5.5 5"/>
<line x1="273.3" y1="1014.2" x2="307.5" y2="1014.2" stroke="#222" stroke-width="2.2" stroke-dasharray="5.5 5"/>
<rect x="288.7" y="857.1" width="3.4" height="9" fill="#000"/>
<rect x="288.7" y="879.5" width="3.4" height="9" fill="#000"/>
<rect x="288.7" y="908.3" width="3.4" height="9" fill="#000"/>
<rect x="288.7" y="932.4" width="3.4" height="9" fill="#000"/>
<rect x="275.2" y="937.1" width="3.4" height="9" fill="#000"/>
<rect x="302.2" y="940.1" width="3.4" height="9" fill="#000"/>
<rect x="261.7" y="948.4" width="3.4" height="9" fill="#000"/>
<rect x="288.7" y="954.4" width="3.4" height="9" fill="#000"/>
<rect x="275.2" y="954.4" width="3.4" height="9" fill="#000"/>
<rect x="302.2" y="962.7" width="3.4" height="9" fill="#000"/>
<rect x="288.7" y="976.8" width="3.4" height="9" fill="#000"/>
<rect x="275.2" y="983.5" width="3.4" height="9" fill="#000"/>
<rect x="302.2" y="991.4" width="3.4" height="9" fill="#000"/>
<rect x="288.7" y="1001.3" width="3.4" height="9" fill="#000"/>
<rect x="275.2" y="1014.4" width="3.4" height="9" fill="#000"/>
<rect x="288.7" y="1026.4" width="3.4" height="9" fill="#000"/>
<rect x="288.7" y="1096.9" width="3.4" height="9" fill="#000"/>
<rect x="288.7" y="1120.9" width="3.4" height="9" fill="#000"/>
<path d="M416.3,822.0 C416.3,829.1 414.2,854.5 416.3,864.5 C418.4,874.5 424.7,875.7 428.7,882.0 C432.7,888.3 437.8,896.1 440.3,902.4 C442.8,908.7 443.3,913.2 443.8,920.0 C444.3,926.8 443.1,936.5 443.2,943.3 C443.3,950.1 443.5,955.9 444.7,960.8 C445.9,965.6 449.3,968.0 450.5,972.4 C451.7,976.8 452.2,982.1 452.0,987.0 C451.8,991.9 450.6,996.3 449.1,1001.6 C447.6,1006.9 446.1,1013.2 443.2,1019.0 C440.3,1024.8 434.8,1030.8 431.6,1036.6 C428.5,1042.4 426.0,1048.2 424.3,1054.0 C422.6,1059.8 421.2,1065.7 421.4,1071.5 C421.6,1077.3 424.2,1083.8 425.7,1089.0 C427.2,1094.2 429.1,1098.1 430.3,1103.0 C431.5,1107.9 433.3,1112.8 433.0,1118.2 C432.7,1123.7 431.4,1129.9 428.7,1135.7 C426.0,1141.5 419.1,1149.3 417.0,1153.2 C414.9,1157.1 416.4,1153.4 416.3,1159.0 C416.2,1164.6 416.3,1182.3 416.3,1187.0 L416.3,1187.0 C416.3,1182.3 416.4,1164.6 416.3,1159.0 C416.2,1153.4 417.7,1157.1 415.6,1153.2 C413.5,1149.3 406.6,1141.5 403.9,1135.7 C401.2,1129.9 399.9,1123.7 399.6,1118.2 C399.3,1112.8 401.1,1107.9 402.3,1103.0 C403.5,1098.1 405.4,1094.2 406.9,1089.0 C408.4,1083.8 411.0,1077.3 411.2,1071.5 C411.4,1065.7 410.0,1059.8 408.3,1054.0 C406.6,1048.2 404.1,1042.4 401.0,1036.6 C397.9,1030.8 392.3,1024.8 389.4,1019.0 C386.5,1013.2 385.0,1006.9 383.5,1001.6 C382.0,996.3 380.8,991.9 380.6,987.0 C380.4,982.1 380.9,976.8 382.1,972.4 C383.3,968.0 386.7,965.6 387.9,960.8 C389.1,955.9 389.3,950.1 389.4,943.3 C389.6,936.5 388.3,926.8 388.8,920.0 C389.3,913.2 389.8,908.7 392.3,902.4 C394.8,896.1 399.9,888.3 403.9,882.0 C407.9,875.7 414.2,874.5 416.3,864.5 C418.4,854.5 416.3,829.1 416.3,822.0 Z" fill="none" stroke="#000" stroke-width="6.2" stroke-linejoin="round" stroke-linecap="round"/>
<line x1="383.0" y1="988.8" x2="449.6" y2="988.8" stroke="#000" stroke-width="4.0"/>
<line x1="392.2" y1="935.6" x2="440.4" y2="935.6" stroke="#222" stroke-width="2.2" stroke-dasharray="5.5 5"/>
<line x1="399.9" y1="1030.4" x2="432.7" y2="1030.4" stroke="#222" stroke-width="2.2" stroke-dasharray="5.5 5"/>
<rect x="414.6" y="878.3" width="3.4" height="9" fill="#000"/>
<rect x="401.1" y="893.2" width="3.4" height="9" fill="#000"/>
<rect x="414.6" y="906.8" width="3.4" height="9" fill="#000"/>
<rect x="401.1" y="912.4" width="3.4" height="9" fill="#000"/>
<rect x="414.6" y="925.7" width="3.4" height="9" fill="#000"/>
<rect x="401.1" y="930.6" width="3.4" height="9" fill="#000"/>
<rect x="428.1" y="938.1" width="3.4" height="9" fill="#000"/>
<rect x="414.6" y="949.6" width="3.4" height="9" fill="#000"/>
<rect x="401.1" y="956.0" width="3.4" height="9" fill="#000"/>
<rect x="428.1" y="962.6" width="3.4" height="9" fill="#000"/>
<rect x="414.6" y="971.2" width="3.4" height="9" fill="#000"/>
<rect x="401.1" y="978.8" width="3.4" height="9" fill="#000"/>
<rect x="428.1" y="983.7" width="3.4" height="9" fill="#000"/>
<rect x="414.6" y="994.1" width="3.4" height="9" fill="#000"/>
<rect x="401.1" y="997.8" width="3.4" height="9" fill="#000"/>
<rect x="428.1" y="1008.2" width="3.4" height="9" fill="#000"/>
<rect x="414.6" y="1014.6" width="3.4" height="9" fill="#000"/>
<rect x="401.1" y="1023.6" width="3.4" height="9" fill="#000"/>
<rect x="414.6" y="1046.1" width="3.4" height="9" fill="#000"/>
<rect x="414.6" y="1091.1" width="3.4" height="9" fill="#000"/>
<rect x="414.6" y="1109.9" width="3.4" height="9" fill="#000"/>
<rect x="414.6" y="1128.9" width="3.4" height="9" fill="#000"/>
<path d="M542.0,799.5 C542.0,805.6 540.5,826.7 542.0,835.9 C543.5,845.1 548.5,848.3 550.9,854.5 C553.3,860.7 554.6,867.0 556.5,873.2 C558.4,879.4 559.9,885.6 562.1,891.8 C564.3,898.0 567.3,904.2 569.6,910.4 C571.9,916.6 574.4,922.9 576.1,929.1 C577.8,935.3 579.3,941.5 579.8,947.7 C580.3,953.9 580.8,960.1 578.9,966.3 C577.0,972.5 570.8,978.8 568.6,985.0 C566.5,991.2 566.1,996.6 566.0,1003.6 C565.9,1010.6 568.2,1020.7 567.9,1026.8 C567.6,1032.9 565.6,1035.5 564.0,1040.0 C562.4,1044.5 560.6,1049.1 558.5,1053.6 C556.4,1058.1 553.5,1062.5 551.5,1067.0 C549.5,1071.5 547.4,1075.9 546.4,1080.4 C545.4,1084.9 545.3,1089.7 545.6,1093.8 C545.9,1097.9 547.4,1101.4 548.0,1105.0 C548.6,1108.6 549.2,1111.9 549.1,1115.2 C549.0,1118.5 548.2,1121.9 547.5,1125.0 C546.8,1128.1 546.0,1129.7 545.1,1133.9 C544.2,1138.1 542.5,1141.2 542.0,1150.0 C541.5,1158.8 542.0,1180.8 542.0,1187.0 L542.0,1187.0 C542.0,1180.8 542.5,1158.8 542.0,1150.0 C541.5,1141.2 539.8,1138.1 538.9,1133.9 C538.0,1129.7 537.2,1128.1 536.5,1125.0 C535.8,1121.9 535.0,1118.5 534.9,1115.2 C534.8,1111.9 535.4,1108.6 536.0,1105.0 C536.6,1101.4 538.1,1097.9 538.4,1093.8 C538.7,1089.7 538.6,1084.9 537.6,1080.4 C536.6,1075.9 534.5,1071.5 532.5,1067.0 C530.5,1062.5 527.6,1058.1 525.5,1053.6 C523.4,1049.1 521.6,1044.5 520.0,1040.0 C518.4,1035.5 516.4,1032.9 516.1,1026.8 C515.8,1020.7 518.1,1010.6 518.0,1003.6 C517.9,996.6 517.5,991.2 515.4,985.0 C513.2,978.8 507.0,972.5 505.1,966.3 C503.2,960.1 503.7,953.9 504.2,947.7 C504.7,941.5 506.2,935.3 507.9,929.1 C509.6,922.9 512.1,916.6 514.4,910.4 C516.7,904.2 519.7,898.0 521.9,891.8 C524.1,885.6 525.6,879.4 527.5,873.2 C529.4,867.0 530.7,860.7 533.1,854.5 C535.5,848.3 540.5,845.1 542.0,835.9 C543.5,826.7 542.0,805.6 542.0,799.5 Z" fill="none" stroke="#000" stroke-width="6.2" stroke-linejoin="round" stroke-linecap="round"/>
<line x1="507.1" y1="966.3" x2="576.9" y2="966.3" stroke="#000" stroke-width="4.0"/>
<line x1="511.2" y1="928.1" x2="572.8" y2="928.1" stroke="#222" stroke-width="2.2" stroke-dasharray="5.5 5"/>
<line x1="519.2" y1="1026.0" x2="564.8" y2="1026.0" stroke="#222" stroke-width="2.2" stroke-dasharray="5.5 5"/>
<rect x="540.3" y="861.8" width="3.4" height="9" fill="#000"/>
<rect x="540.3" y="891.0" width="3.4" height="9" fill="#000"/>
<rect x="526.8" y="902.0" width="3.4" height="9" fill="#000"/>
<rect x="540.3" y="911.0" width="3.4" height="9" fill="#000"/>
<rect x="553.8" y="918.6" width="3.4" height="9" fill="#000"/>
<rect x="526.8" y="926.4" width="3.4" height="9" fill="#000"/>
<rect x="540.3" y="935.6" width="3.4" height="9" fill="#000"/>
<rect x="553.8" y="940.5" width="3.4" height="9" fill="#000"/>
<rect x="526.8" y="947.5" width="3.4" height="9" fill="#000"/>
<rect x="540.3" y="954.8" width="3.4" height="9" fill="#000"/>
<rect x="553.8" y="958.3" width="3.4" height="9" fill="#000"/>
<rect x="513.3" y="964.0" width="3.4" height="9" fill="#000"/>
<rect x="540.3" y="976.3" width="3.4" height="9" fill="#000"/>
<rect x="526.8" y="982.2" width="3.4" height="9" fill="#000"/>
<rect x="553.8" y="991.0" width="3.4" height="9" fill="#000"/>
<rect x="540.3" y="1004.9" width="3.4" height="9" fill="#000"/>
<rect x="526.8" y="1016.7" width="3.4" height="9" fill="#000"/>
<rect x="540.3" y="1026.7" width="3.4" height="9" fill="#000"/>
<rect x="553.8" y="1033.4" width="3.4" height="9" fill="#000"/>
<rect x="540.3" y="1049.0" width="3.4" height="9" fill="#000"/>
<rect x="540.3" y="1097.2" width="3.4" height="9" fill="#000"/>
<path d="M668.1,859.0 C668.1,862.0 666.6,872.0 668.1,876.9 C669.6,881.8 673.2,884.4 676.8,888.4 C680.4,892.4 685.5,896.9 689.5,901.1 C693.5,905.3 698.0,909.6 700.9,913.8 C703.8,918.0 706.5,922.7 706.7,926.5 C706.9,930.3 703.6,933.1 702.2,936.7 C700.8,940.3 698.4,944.2 698.4,948.2 C698.4,952.2 700.9,956.7 702.2,960.9 C703.5,965.1 706.4,969.4 706.0,973.6 C705.6,977.8 702.2,982.0 699.7,986.3 C697.2,990.5 694.0,994.9 691.1,999.1 C688.2,1003.4 684.6,1007.2 682.1,1011.8 C679.6,1016.4 677.2,1022.1 676.0,1026.8 C674.8,1031.5 675.4,1035.7 674.7,1040.2 C674.0,1044.7 673.1,1049.6 672.0,1053.6 C670.9,1057.6 668.8,1058.7 668.1,1064.3 C667.5,1069.9 668.1,1083.2 668.1,1087.0 L668.1,1087.0 C668.1,1083.2 668.8,1069.9 668.1,1064.3 C667.5,1058.7 665.3,1057.6 664.2,1053.6 C663.1,1049.6 662.2,1044.7 661.5,1040.2 C660.8,1035.7 661.4,1031.5 660.2,1026.8 C659.0,1022.1 656.6,1016.4 654.1,1011.8 C651.6,1007.2 648.0,1003.4 645.1,999.1 C642.2,994.9 639.0,990.5 636.5,986.3 C634.0,982.0 630.6,977.8 630.2,973.6 C629.8,969.4 632.7,965.1 634.0,960.9 C635.3,956.7 637.8,952.2 637.8,948.2 C637.8,944.2 635.4,940.3 634.0,936.7 C632.6,933.1 629.3,930.3 629.5,926.5 C629.7,922.7 632.4,918.0 635.3,913.8 C638.2,909.6 642.7,905.3 646.7,901.1 C650.7,896.9 655.8,892.4 659.4,888.4 C663.0,884.4 666.6,881.8 668.1,876.9 C669.6,872.0 668.1,862.0 668.1,859.0 Z" fill="none" stroke="#000" stroke-width="6.2" stroke-linejoin="round" stroke-linecap="round"/>
<line x1="637.3" y1="956.4" x2="698.9" y2="956.4" stroke="#000" stroke-width="4.0"/>
<line x1="632.5" y1="926.5" x2="703.7" y2="926.5" stroke="#222" stroke-width="2.2" stroke-dasharray="5.5 5"/>
<line x1="640.0" y1="987.0" x2="696.2" y2="987.0" stroke="#222" stroke-width="2.2" stroke-dasharray="5.5 5"/>
<rect x="666.4" y="889.1" width="3.4" height="9" fill="#000"/>
<rect x="652.9" y="902.2" width="3.4" height="9" fill="#000"/>
<rect x="666.4" y="908.6" width="3.4" height="9" fill="#000"/>
<rect x="679.9" y="914.5" width="3.4" height="9" fill="#000"/>
<rect x="639.4" y="917.0" width="3.4" height="9" fill="#000"/>
<rect x="652.9" y="921.4" width="3.4" height="9" fill="#000"/>
<rect x="666.4" y="928.4" width="3.4" height="9" fill="#000"/>
<rect x="679.9" y="933.2" width="3.4" height="9" fill="#000"/>
<rect x="652.9" y="938.8" width="3.4" height="9" fill="#000"/>
<rect x="666.4" y="947.0" width="3.4" height="9" fill="#000"/>
<rect x="679.9" y="954.8" width="3.4" height="9" fill="#000"/>
<rect x="652.9" y="956.1" width="3.4" height="9" fill="#000"/>
<rect x="639.4" y="961.8" width="3.4" height="9" fill="#000"/>
<rect x="666.4" y="968.6" width="3.4" height="9" fill="#000"/>
<rect x="693.4" y="971.3" width="3.4" height="9" fill="#000"/>
<rect x="652.9" y="975.8" width="3.4" height="9" fill="#000"/>
<rect x="679.9" y="980.7" width="3.4" height="9" fill="#000"/>
<rect x="666.4" y="986.7" width="3.4" height="9" fill="#000"/>
<rect x="666.4" y="1005.3" width="3.4" height="9" fill="#000"/>
<rect x="666.4" y="1025.7" width="3.4" height="9" fill="#000"/>
<line x1="837.5" y1="730.5" x2="837.5" y2="1190.6" stroke="#000" stroke-width="4.6"/>
<line x1="819.5" y1="1188.6" x2="837.5" y2="1188.6" stroke="#000" stroke-width="3.8"/>
<text x="812.5" y="1200.9" font-size="35.5" font-weight="bold" text-anchor="end" >0</text>
<line x1="819.5" y1="1074.6" x2="837.5" y2="1074.6" stroke="#000" stroke-width="3.8"/>
<text x="812.5" y="1086.9" font-size="35.5" font-weight="bold" text-anchor="end" >2</text>
<line x1="819.5" y1="960.5" x2="837.5" y2="960.5" stroke="#000" stroke-width="3.8"/>
<text x="812.5" y="972.8" font-size="35.5" font-weight="bold" text-anchor="end" >4</text>
<line x1="819.5" y1="846.5" x2="837.5" y2="846.5" stroke="#000" stroke-width="3.8"/>
<text x="812.5" y="858.8" font-size="35.5" font-weight="bold" text-anchor="end" >6</text>
<line x1="819.5" y1="732.5" x2="837.5" y2="732.5" stroke="#000" stroke-width="3.8"/>
<text x="812.5" y="744.8" font-size="35.5" font-weight="bold" text-anchor="end" >8</text>
<line x1="819.5" y1="1188.6" x2="1295.7" y2="1188.6" stroke="#000" stroke-width="4.2"/>
<line x1="929.6" y1="1188.6" x2="929.6" y2="1208.6" stroke="#000" stroke-width="4.8"/>
<text x="927.1" y="1254.4" font-size="33.5" font-weight="bold" text-anchor="middle" >Lab 1</text>
<line x1="1066.6" y1="1188.6" x2="1066.6" y2="1208.6" stroke="#000" stroke-width="4.8"/>
<text x="1064.1" y="1254.4" font-size="33.5" font-weight="bold" text-anchor="middle" >Lab 2</text>
<line x1="1203.2" y1="1188.6" x2="1203.2" y2="1208.6" stroke="#000" stroke-width="4.8"/>
<text x="1200.7" y="1254.4" font-size="33.5" font-weight="bold" text-anchor="middle" >Lab 3</text>
<text transform="translate(949.76 724.90) scale(0.9335 1)" font-size="47.74" font-weight="bold">Serotype V</text>
<path d="M929.6,892.5 C929.6,894.5 928.1,901.3 929.6,904.5 C931.1,907.7 936.1,909.1 938.9,911.8 C941.6,914.5 945.8,917.9 946.1,920.9 C946.4,923.9 942.1,927.0 940.7,930.0 C939.4,933.0 937.1,936.0 938.0,939.0 C938.9,942.0 942.5,945.2 946.1,948.2 C949.7,951.2 955.5,954.3 959.8,957.3 C964.1,960.3 970.8,963.4 972.1,966.4 C973.4,969.4 969.4,972.8 967.6,975.5 C965.8,978.2 963.9,980.5 961.2,982.6 C958.5,984.7 955.0,986.1 951.6,988.0 C948.2,989.9 943.9,991.9 940.8,993.9 C937.7,995.9 934.9,998.1 933.1,1000.0 C931.3,1001.9 929.4,1003.0 930.1,1005.2 C930.9,1007.4 935.2,1010.0 937.6,1013.0 C940.0,1016.0 943.7,1020.3 944.2,1023.3 C944.7,1026.3 942.1,1028.3 940.6,1031.0 C939.1,1033.7 937.0,1036.3 935.2,1039.2 C933.4,1042.1 930.5,1044.7 929.6,1048.2 C928.7,1051.7 929.6,1058.0 929.6,1060.0 L929.6,1060.0 C929.6,1058.0 930.5,1051.7 929.6,1048.2 C928.7,1044.7 925.8,1042.1 924.0,1039.2 C922.2,1036.3 920.1,1033.7 918.6,1031.0 C917.1,1028.3 914.5,1026.3 915.0,1023.3 C915.5,1020.3 919.2,1016.0 921.6,1013.0 C924.0,1010.0 928.4,1007.4 929.1,1005.2 C929.9,1003.0 927.9,1001.9 926.1,1000.0 C924.3,998.1 921.5,995.9 918.4,993.9 C915.3,991.9 911.0,989.9 907.6,988.0 C904.2,986.1 900.7,984.7 898.0,982.6 C895.3,980.5 893.4,978.2 891.6,975.5 C889.8,972.8 885.8,969.4 887.1,966.4 C888.4,963.4 895.1,960.3 899.4,957.3 C903.7,954.3 909.5,951.2 913.1,948.2 C916.7,945.2 920.3,942.0 921.2,939.0 C922.1,936.0 919.9,933.0 918.5,930.0 C917.1,927.0 912.8,923.9 913.1,920.9 C913.4,917.9 917.6,914.5 920.3,911.8 C923.1,909.1 928.1,907.7 929.6,904.5 C931.1,901.3 929.6,894.5 929.6,892.5 Z" fill="none" stroke="#000" stroke-width="6.2" stroke-linejoin="round" stroke-linecap="round"/>
<line x1="889.5" y1="967.3" x2="969.7" y2="967.3" stroke="#000" stroke-width="4.0"/>
<line x1="912.0" y1="950.9" x2="947.2" y2="950.9" stroke="#222" stroke-width="2.2" stroke-dasharray="5.5 5"/>
<line x1="902.8" y1="983.6" x2="956.4" y2="983.6" stroke="#222" stroke-width="2.2" stroke-dasharray="5.5 5"/>
<rect x="927.9" y="909.1" width="3.4" height="9" fill="#000"/>
<rect x="927.9" y="928.2" width="3.4" height="9" fill="#000"/>
<rect x="927.9" y="948.9" width="3.4" height="9" fill="#000"/>
<rect x="914.4" y="955.8" width="3.4" height="9" fill="#000"/>
<rect x="941.4" y="954.7" width="3.4" height="9" fill="#000"/>
<rect x="900.9" y="957.1" width="3.4" height="9" fill="#000"/>
<rect x="954.9" y="964.3" width="3.4" height="9" fill="#000"/>
<rect x="927.9" y="969.0" width="3.4" height="9" fill="#000"/>
<rect x="914.4" y="973.3" width="3.4" height="9" fill="#000"/>
<rect x="941.4" y="977.8" width="3.4" height="9" fill="#000"/>
<rect x="927.9" y="988.3" width="3.4" height="9" fill="#000"/>
<rect x="927.9" y="1010.0" width="3.4" height="9" fill="#000"/>
<rect x="927.9" y="1029.1" width="3.4" height="9" fill="#000"/>
<path d="M1066.6,876.5 C1066.6,879.6 1065.8,889.4 1066.6,895.0 C1067.3,900.6 1069.9,905.0 1071.1,910.0 C1072.3,915.0 1073.4,920.8 1073.6,925.0 C1073.8,929.2 1072.1,931.7 1072.3,935.0 C1072.5,938.3 1072.3,941.7 1074.8,945.0 C1077.3,948.3 1083.3,950.8 1087.3,955.0 C1091.3,959.2 1095.5,965.9 1098.6,970.0 C1101.7,974.1 1104.4,976.1 1106.0,979.7 C1107.6,983.3 1108.9,987.5 1108.1,991.7 C1107.3,996.0 1103.7,1001.5 1101.1,1005.2 C1098.5,1008.9 1095.6,1011.0 1092.6,1014.0 C1089.6,1017.0 1086.0,1020.5 1083.0,1023.3 C1080.0,1026.1 1077.3,1028.3 1074.6,1031.0 C1071.9,1033.7 1068.2,1032.2 1066.9,1039.2 C1065.6,1046.2 1066.3,1065.6 1066.9,1073.1 C1067.5,1080.6 1069.2,1080.2 1070.6,1084.0 C1072.0,1087.8 1073.7,1092.0 1075.1,1095.7 C1076.5,1099.4 1078.0,1102.6 1079.1,1106.0 C1080.2,1109.4 1081.8,1113.1 1081.9,1116.1 C1082.0,1119.1 1080.5,1121.4 1079.6,1124.0 C1078.6,1126.6 1078.4,1129.1 1076.2,1131.9 C1074.0,1134.7 1068.2,1136.3 1066.6,1141.0 C1065.0,1145.7 1066.6,1156.8 1066.6,1160.0 L1066.6,1160.0 C1066.6,1156.8 1068.2,1145.7 1066.6,1141.0 C1065.0,1136.3 1059.2,1134.7 1057.0,1131.9 C1054.8,1129.1 1054.5,1126.6 1053.6,1124.0 C1052.6,1121.4 1051.2,1119.1 1051.3,1116.1 C1051.4,1113.1 1053.0,1109.4 1054.1,1106.0 C1055.2,1102.6 1056.7,1099.4 1058.1,1095.7 C1059.5,1092.0 1061.2,1087.8 1062.6,1084.0 C1064.0,1080.2 1065.7,1080.6 1066.3,1073.1 C1066.9,1065.6 1067.6,1046.2 1066.3,1039.2 C1065.0,1032.2 1061.3,1033.7 1058.6,1031.0 C1055.9,1028.3 1053.2,1026.1 1050.2,1023.3 C1047.2,1020.5 1043.6,1017.0 1040.6,1014.0 C1037.6,1011.0 1034.7,1008.9 1032.1,1005.2 C1029.5,1001.5 1025.9,996.0 1025.1,991.7 C1024.3,987.5 1025.6,983.3 1027.2,979.7 C1028.8,976.1 1031.5,974.1 1034.6,970.0 C1037.7,965.9 1041.9,959.2 1045.9,955.0 C1049.9,950.8 1055.9,948.3 1058.4,945.0 C1060.9,941.7 1060.7,938.3 1060.9,935.0 C1061.1,931.7 1059.4,929.2 1059.6,925.0 C1059.8,920.8 1060.9,915.0 1062.1,910.0 C1063.3,905.0 1065.8,900.6 1066.6,895.0 C1067.3,889.4 1066.6,879.6 1066.6,876.5 Z" fill="none" stroke="#000" stroke-width="6.2" stroke-linejoin="round" stroke-linecap="round"/>
<line x1="1027.5" y1="992.4" x2="1105.7" y2="992.4" stroke="#000" stroke-width="4.0"/>
<line x1="1039.9" y1="967.0" x2="1093.3" y2="967.0" stroke="#222" stroke-width="2.2" stroke-dasharray="5.5 5"/>
<line x1="1049.7" y1="1019.9" x2="1083.5" y2="1019.9" stroke="#222" stroke-width="2.2" stroke-dasharray="5.5 5"/>
<rect x="1064.9" y="923.2" width="3.4" height="9" fill="#000"/>
<rect x="1064.9" y="946.2" width="3.4" height="9" fill="#000"/>
<rect x="1051.4" y="953.9" width="3.4" height="9" fill="#000"/>
<rect x="1078.4" y="958.0" width="3.4" height="9" fill="#000"/>
<rect x="1064.9" y="967.2" width="3.4" height="9" fill="#000"/>
<rect x="1051.4" y="971.3" width="3.4" height="9" fill="#000"/>
<rect x="1078.4" y="977.9" width="3.4" height="9" fill="#000"/>
<rect x="1037.9" y="978.4" width="3.4" height="9" fill="#000"/>
<rect x="1064.9" y="984.3" width="3.4" height="9" fill="#000"/>
<rect x="1091.9" y="985.0" width="3.4" height="9" fill="#000"/>
<rect x="1051.4" y="991.0" width="3.4" height="9" fill="#000"/>
<rect x="1078.4" y="996.1" width="3.4" height="9" fill="#000"/>
<rect x="1064.9" y="1001.8" width="3.4" height="9" fill="#000"/>
<rect x="1037.9" y="1001.8" width="3.4" height="9" fill="#000"/>
<rect x="1051.4" y="1015.6" width="3.4" height="9" fill="#000"/>
<rect x="1064.9" y="1023.7" width="3.4" height="9" fill="#000"/>
<rect x="1064.9" y="1098.2" width="3.4" height="9" fill="#000"/>
<rect x="1064.9" y="1125.2" width="3.4" height="9" fill="#000"/>
<path d="M1203.2,862.5 C1203.2,864.6 1201.5,871.8 1203.2,875.0 C1204.9,878.2 1210.9,878.8 1213.4,881.8 C1215.9,884.8 1217.9,889.4 1218.0,893.2 C1218.1,897.0 1215.3,900.7 1214.0,904.5 C1212.7,908.3 1209.0,912.1 1210.0,915.9 C1211.0,919.7 1216.2,923.5 1220.2,927.3 C1224.2,931.1 1230.7,935.0 1233.9,938.6 C1237.1,942.2 1239.6,945.5 1239.6,948.9 C1239.6,952.3 1234.5,956.6 1233.9,959.1 C1233.3,961.6 1234.4,961.2 1236.2,963.6 C1238.0,966.0 1244.7,970.8 1244.7,973.6 C1244.7,976.5 1239.4,978.5 1236.2,980.7 C1233.0,983.0 1229.1,984.9 1225.3,987.1 C1221.5,989.3 1216.8,991.7 1213.2,994.0 C1209.6,996.3 1203.8,997.9 1203.5,1000.7 C1203.2,1003.5 1209.6,1007.2 1211.7,1011.0 C1213.8,1014.8 1215.8,1019.3 1216.2,1023.3 C1216.6,1027.2 1215.3,1031.4 1214.0,1034.7 C1212.7,1038.0 1210.0,1040.4 1208.2,1043.0 C1206.4,1045.6 1204.0,1046.7 1203.2,1050.5 C1202.4,1054.3 1203.2,1063.4 1203.2,1066.0 L1203.2,1066.0 C1203.2,1063.4 1204.0,1054.3 1203.2,1050.5 C1202.4,1046.7 1200.0,1045.6 1198.2,1043.0 C1196.4,1040.4 1193.7,1038.0 1192.4,1034.7 C1191.1,1031.4 1189.8,1027.2 1190.2,1023.3 C1190.6,1019.3 1192.6,1014.8 1194.7,1011.0 C1196.8,1007.2 1203.2,1003.5 1202.9,1000.7 C1202.7,997.9 1196.8,996.3 1193.2,994.0 C1189.6,991.7 1184.9,989.3 1181.1,987.1 C1177.3,984.9 1173.4,983.0 1170.2,980.7 C1167.0,978.5 1161.7,976.5 1161.7,973.6 C1161.7,970.8 1168.4,966.0 1170.2,963.6 C1172.0,961.2 1173.1,961.6 1172.5,959.1 C1171.9,956.6 1166.8,952.3 1166.8,948.9 C1166.8,945.5 1169.3,942.2 1172.5,938.6 C1175.7,935.0 1182.2,931.1 1186.2,927.3 C1190.2,923.5 1195.4,919.7 1196.4,915.9 C1197.4,912.1 1193.7,908.3 1192.4,904.5 C1191.1,900.7 1188.3,897.0 1188.4,893.2 C1188.5,889.4 1190.5,884.8 1193.0,881.8 C1195.5,878.8 1201.5,878.2 1203.2,875.0 C1204.9,871.8 1203.2,864.6 1203.2,862.5 Z" fill="none" stroke="#000" stroke-width="6.2" stroke-linejoin="round" stroke-linecap="round"/>
<line x1="1173.3" y1="961.4" x2="1233.1" y2="961.4" stroke="#000" stroke-width="4.0"/>
<line x1="1174.8" y1="939.8" x2="1231.6" y2="939.8" stroke="#222" stroke-width="2.2" stroke-dasharray="5.5 5"/>
<line x1="1170.4" y1="978.4" x2="1236.0" y2="978.4" stroke="#222" stroke-width="2.2" stroke-dasharray="5.5 5"/>
<rect x="1201.5" y="881.9" width="3.4" height="9" fill="#000"/>
<rect x="1201.5" y="908.2" width="3.4" height="9" fill="#000"/>
<rect x="1188.0" y="924.8" width="3.4" height="9" fill="#000"/>
<rect x="1201.5" y="929.9" width="3.4" height="9" fill="#000"/>
<rect x="1215.0" y="937.0" width="3.4" height="9" fill="#000"/>
<rect x="1174.5" y="937.1" width="3.4" height="9" fill="#000"/>
<rect x="1188.0" y="942.5" width="3.4" height="9" fill="#000"/>
<rect x="1228.5" y="944.9" width="3.4" height="9" fill="#000"/>
<rect x="1201.5" y="948.9" width="3.4" height="9" fill="#000"/>
<rect x="1215.0" y="958.3" width="3.4" height="9" fill="#000"/>
<rect x="1188.0" y="962.4" width="3.4" height="9" fill="#000"/>
<rect x="1174.5" y="965.0" width="3.4" height="9" fill="#000"/>
<rect x="1201.5" y="967.5" width="3.4" height="9" fill="#000"/>
<rect x="1228.5" y="967.3" width="3.4" height="9" fill="#000"/>
<rect x="1215.0" y="976.0" width="3.4" height="9" fill="#000"/>
<rect x="1201.5" y="988.4" width="3.4" height="9" fill="#000"/>
<rect x="1201.5" y="1015.3" width="3.4" height="9" fill="#000"/>
<text transform="translate(91.50 889.65) rotate(-90) scale(0.9234 1)" font-size="42.48" font-weight="bold">Reciprocal OPkA titer, log10</text>
<line x1="208.8" y1="1398.5" x2="208.8" y2="1901.0" stroke="#000" stroke-width="4.2"/>
<line x1="188.8" y1="1899.0" x2="710.2" y2="1899.0" stroke="#000" stroke-width="5.8"/>
<line x1="188.8" y1="1899.0" x2="210.8" y2="1899.0" stroke="#000" stroke-width="5.4"/>
<text x="181.8" y="1911.1" font-size="39.5" font-weight="bold" text-anchor="end" >0</text>
<line x1="208.8" y1="1899.0" x2="208.8" y2="1920.0" stroke="#000" stroke-width="4.2"/>
<text x="208.8" y="1961.5" font-size="39.5" font-weight="bold" text-anchor="middle" >0</text>
<line x1="188.8" y1="1733.0" x2="210.8" y2="1733.0" stroke="#000" stroke-width="5.4"/>
<text x="181.8" y="1745.1" font-size="39.5" font-weight="bold" text-anchor="end" >2</text>
<line x1="375.0" y1="1899.0" x2="375.0" y2="1920.0" stroke="#000" stroke-width="5.6"/>
<text x="375.0" y="1961.5" font-size="39.5" font-weight="bold" text-anchor="middle" >2</text>
<line x1="188.8" y1="1567.0" x2="210.8" y2="1567.0" stroke="#000" stroke-width="5.4"/>
<text x="181.8" y="1579.1" font-size="39.5" font-weight="bold" text-anchor="end" >4</text>
<line x1="541.2" y1="1899.0" x2="541.2" y2="1920.0" stroke="#000" stroke-width="5.6"/>
<text x="541.2" y="1961.5" font-size="39.5" font-weight="bold" text-anchor="middle" >4</text>
<line x1="188.8" y1="1401.0" x2="210.8" y2="1401.0" stroke="#000" stroke-width="5.4"/>
<text x="181.8" y="1413.1" font-size="39.5" font-weight="bold" text-anchor="end" >6</text>
<line x1="707.4" y1="1899.0" x2="707.4" y2="1920.0" stroke="#000" stroke-width="5.6"/>
<text x="707.4" y="1961.5" font-size="39.5" font-weight="bold" text-anchor="middle" >6</text>
<text transform="translate(234.44 1439.90) scale(0.9720 1)" font-size="46.59" font-weight="bold">Serotype Ia</text>
<circle cx="662.9" cy="1471.0" r="6.2" fill="#00c400" fill-opacity="0.92"/>
<circle cx="628.2" cy="1477.0" r="6.2" fill="#00c400" fill-opacity="0.92"/>
<circle cx="596.2" cy="1506.2" r="6.2" fill="#00c400" fill-opacity="0.92"/>
<circle cx="581.0" cy="1512.9" r="6.2" fill="#00c400" fill-opacity="0.92"/>
<circle cx="567.6" cy="1513.8" r="6.2" fill="#00c400" fill-opacity="0.92"/>
<circle cx="561.0" cy="1518.6" r="6.2" fill="#00c400" fill-opacity="0.92"/>
<circle cx="637.5" cy="1509.4" r="6.2" fill="#1c1cff" fill-opacity="0.92"/>
<circle cx="662.9" cy="1509.4" r="6.2" fill="#ff2a92" fill-opacity="0.92"/>
<circle cx="626.7" cy="1533.8" r="6.2" fill="#ff2a92" fill-opacity="0.92"/>
<circle cx="631.4" cy="1533.8" r="6.2" fill="#1c1cff" fill-opacity="0.92"/>
<circle cx="567.2" cy="1540.5" r="6.2" fill="#ff2a92" fill-opacity="0.92"/>
<circle cx="576.8" cy="1543.7" r="6.2" fill="#00c400" fill-opacity="0.92"/>
<circle cx="594.7" cy="1540.1" r="6.2" fill="#1c1cff" fill-opacity="0.92"/>
<circle cx="595.2" cy="1549.0" r="6.2" fill="#ff2a92" fill-opacity="0.92"/>
<circle cx="602.9" cy="1550.4" r="6.2" fill="#1c1cff" fill-opacity="0.92"/>
<circle cx="590.1" cy="1557.6" r="6.2" fill="#1c1cff" fill-opacity="0.92"/>
<circle cx="581.0" cy="1568.5" r="6.2" fill="#ff2a92" fill-opacity="0.92"/>
<circle cx="595.6" cy="1568.5" r="6.2" fill="#1c1cff" fill-opacity="0.92"/>
<circle cx="560.0" cy="1557.6" r="6.2" fill="#ff2a92" fill-opacity="0.92"/>
<circle cx="563.8" cy="1560.5" r="6.2" fill="#1c1cff" fill-opacity="0.92"/>
<circle cx="530.5" cy="1560.5" r="6.2" fill="#00c400" fill-opacity="0.92"/>
<circle cx="544.4" cy="1557.6" r="6.2" fill="#00c400" fill-opacity="0.92"/>
<circle cx="539.0" cy="1576.7" r="6.2" fill="#00c400" fill-opacity="0.92"/>
<circle cx="548.0" cy="1580.1" r="6.2" fill="#1c1cff" fill-opacity="0.92"/>
<circle cx="488.0" cy="1594.2" r="6.2" fill="#00c400" fill-opacity="0.92"/>
<circle cx="492.4" cy="1601.4" r="6.2" fill="#00c400" fill-opacity="0.92"/>
<circle cx="541.9" cy="1603.3" r="6.2" fill="#ff2a92" fill-opacity="0.92"/>
<circle cx="545.0" cy="1601.0" r="6.2" fill="#ff2a92" fill-opacity="0.92"/>
<circle cx="531.4" cy="1603.3" r="6.2" fill="#1c1cff" fill-opacity="0.92"/>
<circle cx="551.4" cy="1602.4" r="6.2" fill="#1c1cff" fill-opacity="0.92"/>
<circle cx="531.4" cy="1613.4" r="6.2" fill="#1c1cff" fill-opacity="0.92"/>
<circle cx="506.3" cy="1615.3" r="6.2" fill="#00c400" fill-opacity="0.92"/>
<circle cx="491.8" cy="1624.9" r="6.2" fill="#ff2a92" fill-opacity="0.92"/>
<circle cx="507.0" cy="1624.9" r="6.2" fill="#1c1cff" fill-opacity="0.92"/>
<circle cx="385.9" cy="1633.2" r="6.2" fill="#00c400" fill-opacity="0.92"/>
<circle cx="490.5" cy="1636.7" r="6.2" fill="#00c400" fill-opacity="0.92"/>
<circle cx="487.6" cy="1671.3" r="6.2" fill="#ff2a92" fill-opacity="0.92"/>
<circle cx="514.3" cy="1671.3" r="6.2" fill="#1c1cff" fill-opacity="0.92"/>
<circle cx="493.0" cy="1685.2" r="6.2" fill="#1c1cff" fill-opacity="0.92"/>
<circle cx="506.3" cy="1685.2" r="6.2" fill="#ff2a92" fill-opacity="0.92"/>
<circle cx="435.6" cy="1728.8" r="6.2" fill="#00c400" fill-opacity="0.92"/>
<circle cx="379.6" cy="1799.3" r="6.2" fill="#1c1cff" fill-opacity="0.92"/>
<circle cx="387.4" cy="1799.3" r="6.2" fill="#ff2a92" fill-opacity="0.92"/>
<circle cx="435.6" cy="1799.3" r="6.2" fill="#ff2a92" fill-opacity="0.92"/>
<circle cx="473.1" cy="1799.3" r="6.2" fill="#1c1cff" fill-opacity="0.92"/>
<circle cx="477.3" cy="1799.3" r="6.2" fill="#1c1cff" fill-opacity="0.92"/>
<circle cx="483.8" cy="1799.3" r="6.2" fill="#1c1cff" fill-opacity="0.92"/>
<circle cx="491.5" cy="1799.3" r="6.2" fill="#ff2a92" fill-opacity="0.92"/>
<circle cx="506.4" cy="1799.3" r="6.2" fill="#ff2a92" fill-opacity="0.92"/>
<line x1="878.2" y1="1393.5" x2="878.2" y2="1907.2" stroke="#000" stroke-width="4.2"/>
<line x1="858.2" y1="1905.2" x2="1389.9" y2="1905.2" stroke="#000" stroke-width="6.0"/>
<line x1="858.2" y1="1905.2" x2="880.2" y2="1905.2" stroke="#000" stroke-width="5.4"/>
<text x="851.2" y="1918.1" font-size="41.5" font-weight="bold" text-anchor="end" >0</text>
<line x1="878.2" y1="1905.2" x2="878.2" y2="1926.2" stroke="#000" stroke-width="4.2"/>
<text x="878.2" y="1969.1" font-size="41.5" font-weight="bold" text-anchor="middle" >0</text>
<line x1="858.2" y1="1735.5" x2="880.2" y2="1735.5" stroke="#000" stroke-width="5.4"/>
<text x="851.2" y="1748.3" font-size="41.5" font-weight="bold" text-anchor="end" >2</text>
<line x1="1047.8" y1="1905.2" x2="1047.8" y2="1926.2" stroke="#000" stroke-width="5.6"/>
<text x="1047.8" y="1969.1" font-size="41.5" font-weight="bold" text-anchor="middle" >2</text>
<line x1="858.2" y1="1565.7" x2="880.2" y2="1565.7" stroke="#000" stroke-width="5.4"/>
<text x="851.2" y="1578.6" font-size="41.5" font-weight="bold" text-anchor="end" >4</text>
<line x1="1217.5" y1="1905.2" x2="1217.5" y2="1926.2" stroke="#000" stroke-width="5.6"/>
<text x="1217.5" y="1969.1" font-size="41.5" font-weight="bold" text-anchor="middle" >4</text>
<line x1="858.2" y1="1396.0" x2="880.2" y2="1396.0" stroke="#000" stroke-width="5.4"/>
<text x="851.2" y="1408.9" font-size="41.5" font-weight="bold" text-anchor="end" >6</text>
<line x1="1387.1" y1="1905.2" x2="1387.1" y2="1926.2" stroke="#000" stroke-width="5.6"/>
<text x="1387.1" y="1969.1" font-size="41.5" font-weight="bold" text-anchor="middle" >6</text>
<text transform="translate(909.92 1440.00) scale(1.0114 1)" font-size="45.38" font-weight="bold">Serotype Ib</text>
<circle cx="1253.0" cy="1439.2" r="6.2" fill="#ff2a92" fill-opacity="0.92"/>
<circle cx="1279.7" cy="1473.3" r="6.2" fill="#1c1cff" fill-opacity="0.92"/>
<circle cx="1299.2" cy="1473.3" r="6.2" fill="#00c400" fill-opacity="0.92"/>
<circle cx="1299.2" cy="1503.3" r="6.2" fill="#ff2a92" fill-opacity="0.92"/>
<circle cx="1344.2" cy="1502.5" r="6.2" fill="#1c1cff" fill-opacity="0.92"/>
<circle cx="1253.0" cy="1502.5" r="6.2" fill="#00c400" fill-opacity="0.92"/>
<circle cx="1233.3" cy="1507.5" r="6.2" fill="#00c400" fill-opacity="0.92"/>
<circle cx="1241.3" cy="1507.5" r="6.2" fill="#1c1cff" fill-opacity="0.92"/>
<circle cx="1261.7" cy="1510.0" r="6.2" fill="#00c400" fill-opacity="0.92"/>
<circle cx="1265.0" cy="1523.3" r="6.2" fill="#ff2a92" fill-opacity="0.92"/>
<circle cx="1260.8" cy="1515.8" r="6.2" fill="#00c400" fill-opacity="0.92"/>
<circle cx="1267.5" cy="1516.3" r="6.2" fill="#1c1cff" fill-opacity="0.92"/>
<circle cx="1239.7" cy="1519.7" r="6.2" fill="#1c1cff" fill-opacity="0.92"/>
<circle cx="1152.5" cy="1540.3" r="6.2" fill="#1c1cff" fill-opacity="0.92"/>
<circle cx="1212.2" cy="1539.7" r="6.2" fill="#00c400" fill-opacity="0.92"/>
<circle cx="1235.0" cy="1536.7" r="6.2" fill="#00c400" fill-opacity="0.92"/>
<circle cx="1228.3" cy="1537.5" r="6.2" fill="#1c1cff" fill-opacity="0.92"/>
<circle cx="1240.0" cy="1541.7" r="6.2" fill="#ff2a92" fill-opacity="0.92"/>
<circle cx="1234.2" cy="1542.5" r="6.2" fill="#1c1cff" fill-opacity="0.92"/>
<circle cx="1255.8" cy="1548.3" r="6.2" fill="#ff2a92" fill-opacity="0.92"/>
<circle cx="1254.2" cy="1542.5" r="6.2" fill="#00c400" fill-opacity="0.92"/>
<circle cx="1211.7" cy="1548.3" r="6.2" fill="#1c1cff" fill-opacity="0.92"/>
<circle cx="1225.0" cy="1547.5" r="6.2" fill="#1c1cff" fill-opacity="0.92"/>
<circle cx="1246.7" cy="1547.5" r="6.2" fill="#00c400" fill-opacity="0.92"/>
<circle cx="1198.3" cy="1555.0" r="6.2" fill="#1c1cff" fill-opacity="0.92"/>
<circle cx="1211.7" cy="1551.7" r="6.2" fill="#1c1cff" fill-opacity="0.92"/>
<circle cx="1222.5" cy="1553.3" r="6.2" fill="#00c400" fill-opacity="0.92"/>
<circle cx="1234.2" cy="1555.0" r="6.2" fill="#009a10" fill-opacity="0.92"/>
<circle cx="1244.2" cy="1558.7" r="6.2" fill="#ff2a92" fill-opacity="0.92"/>
<circle cx="1222.5" cy="1571.3" r="6.2" fill="#ff2a92" fill-opacity="0.92"/>
<circle cx="1245.8" cy="1571.7" r="6.2" fill="#ff2a92" fill-opacity="0.92"/>
<circle cx="1234.2" cy="1585.0" r="6.2" fill="#ff2a92" fill-opacity="0.92"/>
<circle cx="1198.0" cy="1588.0" r="6.2" fill="#ff2a92" fill-opacity="0.92"/>
<circle cx="1174.2" cy="1591.3" r="6.2" fill="#00c400" fill-opacity="0.92"/>
<circle cx="1170.5" cy="1590.8" r="6.2" fill="#0c0cd0" fill-opacity="0.92"/>
<circle cx="1200.0" cy="1598.7" r="6.2" fill="#00c400" fill-opacity="0.92"/>
<circle cx="1195.3" cy="1598.7" r="6.2" fill="#0c0cd0" fill-opacity="0.92"/>
<circle cx="1174.2" cy="1613.3" r="6.2" fill="#ff2a92" fill-opacity="0.92"/>
<circle cx="1158.0" cy="1624.7" r="6.2" fill="#1c1cff" fill-opacity="0.92"/>
<circle cx="1184.0" cy="1625.3" r="6.2" fill="#009a10" fill-opacity="0.92"/>
<circle cx="1212.2" cy="1631.3" r="6.2" fill="#ff2a92" fill-opacity="0.92"/>
<circle cx="1120.0" cy="1647.9" r="6.2" fill="#1c1cff" fill-opacity="0.92"/>
<circle cx="1178.3" cy="1647.9" r="6.2" fill="#00c400" fill-opacity="0.92"/>
<circle cx="1178.3" cy="1663.6" r="6.2" fill="#ff2a92" fill-opacity="0.92"/>
<circle cx="980.7" cy="1757.1" r="6.2" fill="#1c1cff" fill-opacity="0.92"/>
<circle cx="1125.7" cy="1757.1" r="6.2" fill="#00c400" fill-opacity="0.92"/>
<circle cx="980.7" cy="1802.9" r="6.2" fill="#1c1cff" fill-opacity="0.92"/>
<circle cx="1125.7" cy="1802.9" r="6.2" fill="#ff2a92" fill-opacity="0.92"/>
<circle cx="1153.6" cy="1802.9" r="6.2" fill="#009a10" fill-opacity="0.92"/>
<line x1="1552.1" y1="1393.2" x2="1552.1" y2="1907.2" stroke="#000" stroke-width="4.2"/>
<line x1="1532.1" y1="1905.2" x2="2063.5" y2="1905.2" stroke="#000" stroke-width="6.0"/>
<line x1="1532.1" y1="1905.2" x2="1554.1" y2="1905.2" stroke="#000" stroke-width="5.4"/>
<text x="1525.1" y="1918.1" font-size="41.5" font-weight="bold" text-anchor="end" >0</text>
<line x1="1552.1" y1="1905.2" x2="1552.1" y2="1926.2" stroke="#000" stroke-width="4.2"/>
<text x="1552.1" y="1969.1" font-size="41.5" font-weight="bold" text-anchor="middle" >0</text>
<line x1="1532.1" y1="1735.4" x2="1554.1" y2="1735.4" stroke="#000" stroke-width="5.4"/>
<text x="1525.1" y="1748.2" font-size="41.5" font-weight="bold" text-anchor="end" >2</text>
<line x1="1721.6" y1="1905.2" x2="1721.6" y2="1926.2" stroke="#000" stroke-width="5.6"/>
<text x="1721.6" y="1969.1" font-size="41.5" font-weight="bold" text-anchor="middle" >2</text>
<line x1="1532.1" y1="1565.5" x2="1554.1" y2="1565.5" stroke="#000" stroke-width="5.4"/>
<text x="1525.1" y="1578.4" font-size="41.5" font-weight="bold" text-anchor="end" >4</text>
<line x1="1891.2" y1="1905.2" x2="1891.2" y2="1926.2" stroke="#000" stroke-width="5.6"/>
<text x="1891.2" y="1969.1" font-size="41.5" font-weight="bold" text-anchor="middle" >4</text>
<line x1="1532.1" y1="1395.7" x2="1554.1" y2="1395.7" stroke="#000" stroke-width="5.4"/>
<text x="1525.1" y="1408.6" font-size="41.5" font-weight="bold" text-anchor="end" >6</text>
<line x1="2060.7" y1="1905.2" x2="2060.7" y2="1926.2" stroke="#000" stroke-width="5.6"/>
<text x="2060.7" y="1969.1" font-size="41.5" font-weight="bold" text-anchor="middle" >6</text>
<text transform="translate(1582.52 1439.60) scale(1.0027 1)" font-size="45.88" font-weight="bold">Serotype II</text>
<circle cx="1996.3" cy="1448.1" r="6.2" fill="#00c400" fill-opacity="0.92"/>
<circle cx="1996.3" cy="1473.5" r="6.2" fill="#ff2a92" fill-opacity="0.92"/>
<circle cx="2008.8" cy="1473.5" r="6.2" fill="#1c1cff" fill-opacity="0.92"/>
<circle cx="1955.2" cy="1481.8" r="6.2" fill="#00c400" fill-opacity="0.92"/>
<circle cx="1960.6" cy="1487.1" r="6.2" fill="#00c400" fill-opacity="0.92"/>
<circle cx="1986.2" cy="1493.7" r="6.2" fill="#00c400" fill-opacity="0.92"/>
<circle cx="1955.2" cy="1501.4" r="6.2" fill="#ff2a92" fill-opacity="0.92"/>
<circle cx="1964.8" cy="1498.5" r="6.2" fill="#00c400" fill-opacity="0.92"/>
<circle cx="1974.9" cy="1501.4" r="6.2" fill="#1c1cff" fill-opacity="0.92"/>
<circle cx="1958.8" cy="1504.4" r="6.2" fill="#1c1cff" fill-opacity="0.92"/>
<circle cx="1963.6" cy="1505.6" r="6.2" fill="#1c1cff" fill-opacity="0.92"/>
<circle cx="1986.2" cy="1505.2" r="6.2" fill="#ff2a92" fill-opacity="0.92"/>
<circle cx="1970.1" cy="1512.1" r="6.2" fill="#00c400" fill-opacity="0.92"/>
<circle cx="1957.6" cy="1518.1" r="6.2" fill="#00c400" fill-opacity="0.92"/>
<circle cx="1956.4" cy="1513.9" r="6.2" fill="#1c1cff" fill-opacity="0.92"/>
<circle cx="1969.5" cy="1518.7" r="6.2" fill="#ff2a92" fill-opacity="0.92"/>
<circle cx="1944.5" cy="1518.3" r="6.2" fill="#1c1cff" fill-opacity="0.92"/>
<circle cx="1919.5" cy="1525.2" r="6.2" fill="#00c400" fill-opacity="0.92"/>
<circle cx="1948.1" cy="1536.5" r="6.2" fill="#00c400" fill-opacity="0.92"/>
<circle cx="1934.4" cy="1533.6" r="6.2" fill="#1c1cff" fill-opacity="0.92"/>
<circle cx="1939.2" cy="1535.4" r="6.2" fill="#1c1cff" fill-opacity="0.92"/>
<circle cx="1958.2" cy="1535.4" r="6.2" fill="#ff2a92" fill-opacity="0.92"/>
<circle cx="1919.5" cy="1538.9" r="6.2" fill="#ff2a92" fill-opacity="0.92"/>
<circle cx="1930.8" cy="1540.1" r="6.2" fill="#1c1cff" fill-opacity="0.92"/>
<circle cx="1948.1" cy="1547.3" r="6.2" fill="#ff2a92" fill-opacity="0.92"/>
<circle cx="1959.4" cy="1546.1" r="6.2" fill="#ff2a92" fill-opacity="0.92"/>
<circle cx="1970.5" cy="1545.5" r="6.2" fill="#1c1cff" fill-opacity="0.92"/>
<circle cx="1935.0" cy="1549.6" r="6.2" fill="#00c400" fill-opacity="0.92"/>
<circle cx="1918.9" cy="1547.3" r="6.2" fill="#1c1cff" fill-opacity="0.92"/>
<circle cx="1909.0" cy="1549.0" r="6.2" fill="#00c400" fill-opacity="0.92"/>
<circle cx="1914.2" cy="1553.8" r="6.2" fill="#ff2a92" fill-opacity="0.92"/>
<circle cx="1905.2" cy="1552.0" r="6.2" fill="#1c1cff" fill-opacity="0.92"/>
<circle cx="1872.5" cy="1553.2" r="6.2" fill="#1c1cff" fill-opacity="0.92"/>
<circle cx="1907.0" cy="1561.0" r="6.2" fill="#1c1cff" fill-opacity="0.92"/>
<circle cx="1935.0" cy="1559.8" r="6.2" fill="#ff2a92" fill-opacity="0.92"/>
<circle cx="1898.7" cy="1564.5" r="6.2" fill="#00c400" fill-opacity="0.92"/>
<circle cx="1885.0" cy="1580.6" r="6.2" fill="#00c400" fill-opacity="0.92"/>
<circle cx="1892.7" cy="1581.8" r="6.2" fill="#1c1cff" fill-opacity="0.92"/>
<circle cx="1899.9" cy="1581.8" r="6.2" fill="#ff2a92" fill-opacity="0.92"/>
<circle cx="1914.2" cy="1584.2" r="6.2" fill="#00c400" fill-opacity="0.92"/>
<circle cx="1843.6" cy="1647.1" r="6.2" fill="#00c400" fill-opacity="0.92"/>
<circle cx="1841.2" cy="1661.5" r="6.2" fill="#00c400" fill-opacity="0.92"/>
<circle cx="1810.0" cy="1697.1" r="6.2" fill="#1c1cff" fill-opacity="0.92"/>
<circle cx="1843.6" cy="1697.1" r="6.2" fill="#ff2a92" fill-opacity="0.92"/>
<circle cx="1732.9" cy="1730.7" r="6.2" fill="#00c400" fill-opacity="0.92"/>
<circle cx="1653.9" cy="1802.7" r="6.2" fill="#1c1cff" fill-opacity="0.92"/>
<circle cx="1725.9" cy="1802.7" r="6.2" fill="#1c1cff" fill-opacity="0.92"/>
<circle cx="1733.7" cy="1802.7" r="6.2" fill="#ff2a92" fill-opacity="0.92"/>
<circle cx="1795.6" cy="1802.7" r="6.2" fill="#1c1cff" fill-opacity="0.92"/>
<circle cx="1841.2" cy="1802.7" r="6.2" fill="#ff2a92" fill-opacity="0.92"/>
<circle cx="1875.3" cy="1802.7" r="6.2" fill="#1c1cff" fill-opacity="0.92"/>
<circle cx="1885.4" cy="1802.7" r="6.2" fill="#ff2a92" fill-opacity="0.92"/>
<line x1="204.0" y1="2037.0" x2="204.0" y2="2549.0" stroke="#000" stroke-width="4.2"/>
<line x1="184.0" y1="2547.0" x2="714.0" y2="2547.0" stroke="#000" stroke-width="4.4"/>
<line x1="184.0" y1="2547.0" x2="206.0" y2="2547.0" stroke="#000" stroke-width="5.4"/>
<text x="177.0" y="2560.2" font-size="42.5" font-weight="bold" text-anchor="end" >0</text>
<line x1="204.0" y1="2547.0" x2="204.0" y2="2568.0" stroke="#000" stroke-width="4.2"/>
<text x="204.0" y="2611.6" font-size="42.5" font-weight="bold" text-anchor="middle" >0</text>
<line x1="184.0" y1="2377.8" x2="206.0" y2="2377.8" stroke="#000" stroke-width="5.4"/>
<text x="177.0" y="2391.0" font-size="42.5" font-weight="bold" text-anchor="end" >2</text>
<line x1="373.1" y1="2547.0" x2="373.1" y2="2568.0" stroke="#000" stroke-width="5.6"/>
<text x="373.1" y="2611.6" font-size="42.5" font-weight="bold" text-anchor="middle" >2</text>
<line x1="184.0" y1="2208.7" x2="206.0" y2="2208.7" stroke="#000" stroke-width="5.4"/>
<text x="177.0" y="2221.9" font-size="42.5" font-weight="bold" text-anchor="end" >4</text>
<line x1="542.1" y1="2547.0" x2="542.1" y2="2568.0" stroke="#000" stroke-width="5.6"/>
<text x="542.1" y="2611.6" font-size="42.5" font-weight="bold" text-anchor="middle" >4</text>
<line x1="184.0" y1="2039.5" x2="206.0" y2="2039.5" stroke="#000" stroke-width="5.4"/>
<text x="177.0" y="2052.7" font-size="42.5" font-weight="bold" text-anchor="end" >6</text>
<line x1="711.2" y1="2547.0" x2="711.2" y2="2568.0" stroke="#000" stroke-width="5.6"/>
<text x="711.2" y="2611.6" font-size="42.5" font-weight="bold" text-anchor="middle" >6</text>
<text transform="translate(232.13 2083.30) scale(0.9825 1)" font-size="46.59" font-weight="bold">Serotype III</text>
<circle cx="642.4" cy="2070.5" r="6.2" fill="#1c1cff" fill-opacity="0.92"/>
<circle cx="676.0" cy="2070.5" r="6.2" fill="#00c400" fill-opacity="0.92"/>
<circle cx="622.1" cy="2098.6" r="6.2" fill="#1c1cff" fill-opacity="0.92"/>
<circle cx="657.7" cy="2098.6" r="6.2" fill="#00c400" fill-opacity="0.92"/>
<circle cx="676.0" cy="2109.1" r="6.2" fill="#ff2a92" fill-opacity="0.92"/>
<circle cx="652.9" cy="2117.6" r="6.2" fill="#959595" fill-opacity="0.92"/>
<circle cx="658.1" cy="2117.6" r="6.2" fill="#ff8a10" fill-opacity="0.92"/>
<circle cx="622.1" cy="2117.6" r="6.2" fill="#d92bff" fill-opacity="0.92"/>
<circle cx="657.7" cy="2130.1" r="6.2" fill="#ff2a92" fill-opacity="0.92"/>
<circle cx="590.4" cy="2128.4" r="6.2" fill="#1c1cff" fill-opacity="0.92"/>
<circle cx="604.4" cy="2128.1" r="6.2" fill="#959595" fill-opacity="0.92"/>
<circle cx="618.8" cy="2128.1" r="6.2" fill="#ff8a10" fill-opacity="0.92"/>
<circle cx="614.2" cy="2128.1" r="6.2" fill="#d92bff" fill-opacity="0.92"/>
<circle cx="616.9" cy="2138.6" r="6.2" fill="#ff2a92" fill-opacity="0.92"/>
<circle cx="618.2" cy="2147.1" r="6.2" fill="#00c400" fill-opacity="0.92"/>
<circle cx="613.6" cy="2147.1" r="6.2" fill="#1c1cff" fill-opacity="0.92"/>
<circle cx="579.9" cy="2141.8" r="6.2" fill="#d92bff" fill-opacity="0.92"/>
<circle cx="623.8" cy="2160.2" r="6.2" fill="#959595" fill-opacity="0.92"/>
<circle cx="531.1" cy="2156.3" r="6.2" fill="#d92bff" fill-opacity="0.92"/>
<circle cx="554.0" cy="2156.3" r="6.2" fill="#ff8a10" fill-opacity="0.92"/>
<circle cx="591.0" cy="2160.2" r="6.2" fill="#d92bff" fill-opacity="0.92"/>
<circle cx="576.3" cy="2163.5" r="6.2" fill="#d92bff" fill-opacity="0.92"/>
<circle cx="583.5" cy="2156.3" r="6.2" fill="#959595" fill-opacity="0.92"/>
<circle cx="579.5" cy="2163.5" r="6.2" fill="#959595" fill-opacity="0.92"/>
<circle cx="603.1" cy="2163.5" r="6.2" fill="#ff8a10" fill-opacity="0.92"/>
<circle cx="501.0" cy="2164.1" r="6.2" fill="#d92bff" fill-opacity="0.92"/>
<circle cx="532.4" cy="2164.8" r="6.2" fill="#ff8a10" fill-opacity="0.92"/>
<circle cx="538.9" cy="2164.1" r="6.2" fill="#959595" fill-opacity="0.92"/>
<circle cx="530.4" cy="2168.7" r="6.2" fill="#1c1cff" fill-opacity="0.92"/>
<circle cx="554.0" cy="2168.0" r="6.2" fill="#00c400" fill-opacity="0.92"/>
<circle cx="575.9" cy="2172.6" r="6.2" fill="#1c1cff" fill-opacity="0.92"/>
<circle cx="603.1" cy="2175.9" r="6.2" fill="#ff2a92" fill-opacity="0.92"/>
<circle cx="603.1" cy="2172.6" r="6.2" fill="#00c400" fill-opacity="0.92"/>
<circle cx="527.8" cy="2179.8" r="6.2" fill="#1c1cff" fill-opacity="0.92"/>
<circle cx="558.6" cy="2179.8" r="6.2" fill="#00c400" fill-opacity="0.92"/>
<circle cx="527.8" cy="2187.7" r="6.2" fill="#d92bff" fill-opacity="0.92"/>
<circle cx="519.3" cy="2190.3" r="6.2" fill="#d92bff" fill-opacity="0.92"/>
<circle cx="558.6" cy="2187.0" r="6.2" fill="#ff8a10" fill-opacity="0.92"/>
<circle cx="565.8" cy="2191.0" r="6.2" fill="#ff8a10" fill-opacity="0.92"/>
<circle cx="571.7" cy="2187.0" r="6.2" fill="#959595" fill-opacity="0.92"/>
<circle cx="492.4" cy="2204.7" r="6.2" fill="#d92bff" fill-opacity="0.92"/>
<circle cx="525.8" cy="2205.4" r="6.2" fill="#ff8a10" fill-opacity="0.92"/>
<circle cx="525.8" cy="2205.4" r="6.2" fill="#959595" fill-opacity="0.92"/>
<circle cx="501.0" cy="2213.2" r="6.2" fill="#1c1cff" fill-opacity="0.92"/>
<circle cx="489.2" cy="2214.5" r="6.2" fill="#ff8a10" fill-opacity="0.92"/>
<circle cx="533.7" cy="2213.2" r="6.2" fill="#00c400" fill-opacity="0.92"/>
<circle cx="539.6" cy="2214.5" r="6.2" fill="#959595" fill-opacity="0.92"/>
<circle cx="554.6" cy="2221.1" r="6.2" fill="#ff2a92" fill-opacity="0.92"/>
<circle cx="559.9" cy="2225.0" r="6.2" fill="#ff2a92" fill-opacity="0.92"/>
<circle cx="565.8" cy="2232.2" r="6.2" fill="#ff2a92" fill-opacity="0.92"/>
<circle cx="525.8" cy="2225.0" r="6.2" fill="#00c400" fill-opacity="0.92"/>
<circle cx="492.4" cy="2225.7" r="6.2" fill="#1c1cff" fill-opacity="0.92"/>
<circle cx="518.0" cy="2232.9" r="6.2" fill="#959595" fill-opacity="0.92"/>
<circle cx="546.1" cy="2235.5" r="6.2" fill="#ff8a10" fill-opacity="0.92"/>
<circle cx="306.1" cy="2227.4" r="6.2" fill="#d92bff" fill-opacity="0.92"/>
<circle cx="306.1" cy="2249.1" r="6.2" fill="#ff2a92" fill-opacity="0.92"/>
<circle cx="306.1" cy="2249.1" r="6.2" fill="#d92bff" fill-opacity="0.92"/>
<circle cx="306.1" cy="2290.9" r="6.2" fill="#1c1cff" fill-opacity="0.92"/>
<circle cx="306.1" cy="2306.2" r="6.2" fill="#0c0cd0" fill-opacity="0.92"/>
<circle cx="306.1" cy="2339.1" r="6.2" fill="#ff2a92" fill-opacity="0.92"/>
<circle cx="306.1" cy="2339.1" r="6.2" fill="#959595" fill-opacity="0.92"/>
<circle cx="371.2" cy="2295.7" r="6.2" fill="#d92bff" fill-opacity="0.92"/>
<circle cx="371.2" cy="2311.0" r="6.2" fill="#1c1cff" fill-opacity="0.92"/>
<circle cx="401.7" cy="2255.5" r="6.2" fill="#959595" fill-opacity="0.92"/>
<circle cx="399.8" cy="2269.2" r="6.2" fill="#959595" fill-opacity="0.92"/>
<circle cx="415.8" cy="2295.7" r="6.2" fill="#ff8a10" fill-opacity="0.92"/>
<circle cx="415.8" cy="2310.5" r="6.2" fill="#00c400" fill-opacity="0.92"/>
<circle cx="435.1" cy="2269.2" r="6.2" fill="#d92bff" fill-opacity="0.92"/>
<circle cx="445.9" cy="2248.3" r="6.2" fill="#959595" fill-opacity="0.92"/>
<circle cx="445.6" cy="2257.1" r="6.2" fill="#d92bff" fill-opacity="0.92"/>
<circle cx="461.7" cy="2256.3" r="6.2" fill="#ff8a10" fill-opacity="0.92"/>
<circle cx="451.5" cy="2227.4" r="6.2" fill="#ff8a10" fill-opacity="0.92"/>
<circle cx="460.8" cy="2227.4" r="6.2" fill="#959595" fill-opacity="0.92"/>
<circle cx="458.0" cy="2212.9" r="6.2" fill="#1c1cff" fill-opacity="0.92"/>
<circle cx="458.0" cy="2212.9" r="6.2" fill="#d92bff" fill-opacity="0.92"/>
<circle cx="441.1" cy="2295.7" r="6.2" fill="#959595" fill-opacity="0.92"/>
<circle cx="452.3" cy="2291.2" r="6.2" fill="#00c400" fill-opacity="0.92"/>
<circle cx="461.7" cy="2306.2" r="6.2" fill="#ff2a92" fill-opacity="0.92"/>
<circle cx="484.5" cy="2233.0" r="6.2" fill="#ff8a10" fill-opacity="0.92"/>
<circle cx="477.2" cy="2233.0" r="6.2" fill="#d92bff" fill-opacity="0.92"/>
<circle cx="492.5" cy="2205.7" r="6.2" fill="#d92bff" fill-opacity="0.92"/>
<circle cx="489.0" cy="2213.8" r="6.2" fill="#ff8a10" fill-opacity="0.92"/>
<circle cx="500.9" cy="2212.9" r="6.2" fill="#1c1cff" fill-opacity="0.92"/>
<circle cx="492.5" cy="2225.8" r="6.2" fill="#1c1cff" fill-opacity="0.92"/>
<circle cx="497.8" cy="2250.7" r="6.2" fill="#1c1cff" fill-opacity="0.92"/>
<circle cx="491.7" cy="2269.2" r="6.2" fill="#ff8a10" fill-opacity="0.92"/>
<circle cx="482.9" cy="2274.0" r="6.2" fill="#ff2a92" fill-opacity="0.92"/>
<circle cx="489.3" cy="2293.3" r="6.2" fill="#ff2a92" fill-opacity="0.92"/>
<circle cx="491.7" cy="2316.6" r="6.2" fill="#ff2a92" fill-opacity="0.92"/>
<circle cx="525.9" cy="2205.7" r="6.2" fill="#959595" fill-opacity="0.92"/>
<circle cx="532.7" cy="2213.8" r="6.2" fill="#00c400" fill-opacity="0.92"/>
<circle cx="539.6" cy="2214.6" r="6.2" fill="#959595" fill-opacity="0.92"/>
<circle cx="525.9" cy="2225.0" r="6.2" fill="#00c400" fill-opacity="0.92"/>
<circle cx="517.9" cy="2233.0" r="6.2" fill="#959595" fill-opacity="0.92"/>
<circle cx="546.0" cy="2236.3" r="6.2" fill="#ff8a10" fill-opacity="0.92"/>
<circle cx="525.5" cy="2259.6" r="6.2" fill="#ff2a92" fill-opacity="0.92"/>
<circle cx="531.9" cy="2250.7" r="6.2" fill="#009a10" fill-opacity="0.92"/>
<circle cx="555.2" cy="2221.0" r="6.2" fill="#ff2a92" fill-opacity="0.92"/>
<circle cx="434.9" cy="2352.3" r="6.2" fill="#1c1cff" fill-opacity="0.92"/>
<circle cx="445.7" cy="2350.3" r="6.2" fill="#1c1cff" fill-opacity="0.92"/>
<circle cx="461.6" cy="2350.3" r="6.2" fill="#00c400" fill-opacity="0.92"/>
<circle cx="491.8" cy="2352.5" r="6.2" fill="#00c400" fill-opacity="0.92"/>
<circle cx="416.2" cy="2380.4" r="6.2" fill="#ff2a92" fill-opacity="0.92"/>
<circle cx="306.2" cy="2445.5" r="6.2" fill="#0c0cd0" fill-opacity="0.92"/>
<circle cx="452.5" cy="2445.5" r="6.2" fill="#ff2a92" fill-opacity="0.92"/>
<line x1="879.0" y1="2043.9" x2="879.0" y2="2560.1" stroke="#000" stroke-width="4.2"/>
<line x1="859.0" y1="2558.1" x2="1392.0" y2="2558.1" stroke="#000" stroke-width="4.4"/>
<line x1="859.0" y1="2558.1" x2="881.0" y2="2558.1" stroke="#000" stroke-width="5.4"/>
<text x="852.0" y="2571.3" font-size="42.5" font-weight="bold" text-anchor="end" >0</text>
<line x1="879.0" y1="2558.1" x2="879.0" y2="2579.1" stroke="#000" stroke-width="4.2"/>
<text x="879.0" y="2622.7" font-size="42.5" font-weight="bold" text-anchor="middle" >0</text>
<line x1="859.0" y1="2387.5" x2="881.0" y2="2387.5" stroke="#000" stroke-width="5.4"/>
<text x="852.0" y="2400.7" font-size="42.5" font-weight="bold" text-anchor="end" >2</text>
<line x1="1049.1" y1="2558.1" x2="1049.1" y2="2579.1" stroke="#000" stroke-width="5.6"/>
<text x="1049.1" y="2622.7" font-size="42.5" font-weight="bold" text-anchor="middle" >2</text>
<line x1="859.0" y1="2217.0" x2="881.0" y2="2217.0" stroke="#000" stroke-width="5.4"/>
<text x="852.0" y="2230.2" font-size="42.5" font-weight="bold" text-anchor="end" >4</text>
<line x1="1219.1" y1="2558.1" x2="1219.1" y2="2579.1" stroke="#000" stroke-width="5.6"/>
<text x="1219.1" y="2622.7" font-size="42.5" font-weight="bold" text-anchor="middle" >4</text>
<line x1="859.0" y1="2046.4" x2="881.0" y2="2046.4" stroke="#000" stroke-width="5.4"/>
<text x="852.0" y="2059.6" font-size="42.5" font-weight="bold" text-anchor="end" >6</text>
<line x1="1389.2" y1="2558.1" x2="1389.2" y2="2579.1" stroke="#000" stroke-width="5.6"/>
<text x="1389.2" y="2622.7" font-size="42.5" font-weight="bold" text-anchor="middle" >6</text>
<text transform="translate(910.23 2093.30) scale(0.9533 1)" font-size="47.74" font-weight="bold">Serotype V</text>
<circle cx="1274.4" cy="2115.5" r="6.2" fill="#00c400" fill-opacity="0.92"/>
<circle cx="1284.6" cy="2113.4" r="6.2" fill="#00c400" fill-opacity="0.92"/>
<circle cx="1267.5" cy="2142.9" r="6.2" fill="#00c400" fill-opacity="0.92"/>
<circle cx="1274.6" cy="2149.5" r="6.2" fill="#ff2a92" fill-opacity="0.92"/>
<circle cx="1320.5" cy="2149.3" r="6.2" fill="#1c1cff" fill-opacity="0.92"/>
<circle cx="1267.5" cy="2175.9" r="6.2" fill="#ff2a92" fill-opacity="0.92"/>
<circle cx="1293.4" cy="2175.9" r="6.2" fill="#1c1cff" fill-opacity="0.92"/>
<circle cx="1195.9" cy="2179.1" r="6.2" fill="#00c400" fill-opacity="0.92"/>
<circle cx="1234.1" cy="2183.0" r="6.2" fill="#00c400" fill-opacity="0.92"/>
<circle cx="1212.5" cy="2193.2" r="6.2" fill="#00c400" fill-opacity="0.92"/>
<circle cx="1220.5" cy="2193.8" r="6.2" fill="#00c400" fill-opacity="0.92"/>
<circle cx="1209.3" cy="2199.1" r="6.2" fill="#00c400" fill-opacity="0.92"/>
<circle cx="1204.5" cy="2205.0" r="6.2" fill="#00c400" fill-opacity="0.92"/>
<circle cx="1241.2" cy="2209.8" r="6.2" fill="#00c400" fill-opacity="0.92"/>
<circle cx="1219.5" cy="2223.2" r="6.2" fill="#ff2a92" fill-opacity="0.92"/>
<circle cx="1233.9" cy="2221.1" r="6.2" fill="#ff2a92" fill-opacity="0.92"/>
<circle cx="1226.2" cy="2224.3" r="6.2" fill="#1c1cff" fill-opacity="0.92"/>
<circle cx="1241.6" cy="2224.3" r="6.2" fill="#1c1cff" fill-opacity="0.92"/>
<circle cx="1253.2" cy="2222.1" r="6.2" fill="#1c1cff" fill-opacity="0.92"/>
<circle cx="1216.0" cy="2225.4" r="6.2" fill="#00c400" fill-opacity="0.92"/>
<circle cx="1172.3" cy="2233.9" r="6.2" fill="#00c400" fill-opacity="0.92"/>
<circle cx="1184.6" cy="2233.4" r="6.2" fill="#00c400" fill-opacity="0.92"/>
<circle cx="1188.9" cy="2237.7" r="6.2" fill="#00c400" fill-opacity="0.92"/>
<circle cx="1212.8" cy="2233.9" r="6.2" fill="#ff2a92" fill-opacity="0.92"/>
<circle cx="1241.6" cy="2233.9" r="6.2" fill="#1c1cff" fill-opacity="0.92"/>
<circle cx="1209.8" cy="2245.2" r="6.2" fill="#00c400" fill-opacity="0.92"/>
<circle cx="1195.4" cy="2251.1" r="6.2" fill="#ff2a92" fill-opacity="0.92"/>
<circle cx="1211.4" cy="2252.7" r="6.2" fill="#ff2a92" fill-opacity="0.92"/>
<circle cx="1188.4" cy="2256.4" r="6.2" fill="#ff2a92" fill-opacity="0.92"/>
<circle cx="1199.6" cy="2255.9" r="6.2" fill="#1c1cff" fill-opacity="0.92"/>
<circle cx="1236.6" cy="2252.1" r="6.2" fill="#1c1cff" fill-opacity="0.92"/>
<circle cx="1257.3" cy="2251.1" r="6.2" fill="#1c1cff" fill-opacity="0.92"/>
<circle cx="1185.2" cy="2267.1" r="6.2" fill="#ff2a92" fill-opacity="0.92"/>
<circle cx="1206.1" cy="2265.5" r="6.2" fill="#ff2a92" fill-opacity="0.92"/>
<circle cx="1199.6" cy="2266.6" r="6.2" fill="#1c1cff" fill-opacity="0.92"/>
<circle cx="1203.9" cy="2267.7" r="6.2" fill="#1c1cff" fill-opacity="0.92"/>
<circle cx="1232.0" cy="2265.5" r="6.2" fill="#1c1cff" fill-opacity="0.92"/>
<circle cx="1191.1" cy="2284.1" r="6.2" fill="#1c1cff" fill-opacity="0.92"/>
<circle cx="1216.8" cy="2282.1" r="6.2" fill="#ff2a92" fill-opacity="0.92"/>
<circle cx="1210.1" cy="2281.9" r="6.2" fill="#1c1cff" fill-opacity="0.92"/>
<circle cx="1172.3" cy="2306.3" r="6.2" fill="#ff2a92" fill-opacity="0.92"/>
<circle cx="1183.4" cy="2303.0" r="6.2" fill="#1c1cff" fill-opacity="0.92"/>
<circle cx="1202.1" cy="2306.3" r="6.2" fill="#1c1cff" fill-opacity="0.92"/>
<circle cx="1128.2" cy="2299.8" r="6.2" fill="#00c400" fill-opacity="0.92"/>
<circle cx="1106.8" cy="2332.0" r="6.2" fill="#00c400" fill-opacity="0.92"/>
<circle cx="1126.9" cy="2408.6" r="6.2" fill="#ff2a92" fill-opacity="0.92"/>
<circle cx="1125.5" cy="2439.1" r="6.2" fill="#1c1cff" fill-opacity="0.92"/>
<circle cx="1107.9" cy="2455.2" r="6.2" fill="#ff2a92" fill-opacity="0.92"/>
<circle cx="1105.2" cy="2455.2" r="6.2" fill="#1c1cff" fill-opacity="0.92"/>
<circle cx="1127.7" cy="2455.2" r="6.2" fill="#ff2a92" fill-opacity="0.92"/>
<circle cx="1136.8" cy="2455.2" r="6.2" fill="#1c1cff" fill-opacity="0.92"/>
<text transform="translate(96.90 2215.61) rotate(-90) scale(0.9336 1)" font-size="46.21" font-weight="bold">Reciprocal OPkA titer, log</text>
<text transform="translate(108.10 1688.26) rotate(-90) scale(1.0993 1)" font-size="28.53" font-weight="bold">10</text>
<text transform="translate(567.75 2705.20) scale(0.9570 1)" font-size="45.66" font-weight="bold">Reciprocal OPkA titer, log</text>
<text transform="translate(1100.55 2717.00) scale(1.0535 1)" font-size="29.68" font-weight="bold">10</text>
<text transform="translate(1537.73 2109.00) scale(0.9506 1)" font-size="41.60" font-weight="bold">Key</text>
<text transform="translate(1720.41 2109.00) scale(1.0000 1)" font-size="39.45" font-weight="bold">X-axis</text>
<text transform="translate(1923.30 2109.00) scale(1.0113 1)" font-size="39.45" font-weight="bold">Y-axis</text>
<circle cx="1575.2" cy="2171.2" r="10.6" fill="#ff33cc"/>
<text transform="translate(1726.65 2185.00) scale(0.8873 1)" font-size="45.79" font-weight="normal">Lab 1</text>
<text transform="translate(1929.07 2185.00) scale(0.9076 1)" font-size="45.79" font-weight="normal">Lab 2</text>
<circle cx="1575.2" cy="2246.9" r="10.6" fill="#00cc22"/>
<text transform="translate(1726.65 2260.50) scale(0.8873 1)" font-size="45.79" font-weight="normal">Lab 1</text>
<text transform="translate(1929.08 2260.50) scale(0.9047 1)" font-size="45.79" font-weight="normal">Lab 3</text>
<circle cx="1575.2" cy="2322.6" r="10.6" fill="#0000ff"/>
<text transform="translate(1726.65 2336.00) scale(0.8854 1)" font-size="45.79" font-weight="normal">Lab 3</text>
<text transform="translate(1929.07 2336.00) scale(0.9076 1)" font-size="45.79" font-weight="normal">Lab 2</text>
<circle cx="1575.2" cy="2398.3" r="10.6" fill="#ffc000"/>
<text transform="translate(1726.65 2411.50) scale(0.8873 1)" font-size="45.79" font-weight="normal">Lab 1</text>
<text transform="translate(1929.10 2411.50) scale(0.8991 1)" font-size="45.79" font-weight="normal">Lab 4</text>
<circle cx="1575.2" cy="2474.0" r="10.6" fill="#a633ff"/>
<text transform="translate(1726.64 2487.00) scale(0.8882 1)" font-size="45.79" font-weight="normal">Lab 2</text>
<text transform="translate(1929.10 2487.00) scale(0.8991 1)" font-size="45.79" font-weight="normal">Lab 4</text>
<circle cx="1575.2" cy="2549.7" r="10.6" fill="#a6a6a6"/>
<text transform="translate(1726.65 2562.50) scale(0.8854 1)" font-size="45.79" font-weight="normal">Lab 3</text>
<text transform="translate(1929.10 2562.50) scale(0.8991 1)" font-size="45.79" font-weight="normal">Lab 4</text>
</svg></body></html>
